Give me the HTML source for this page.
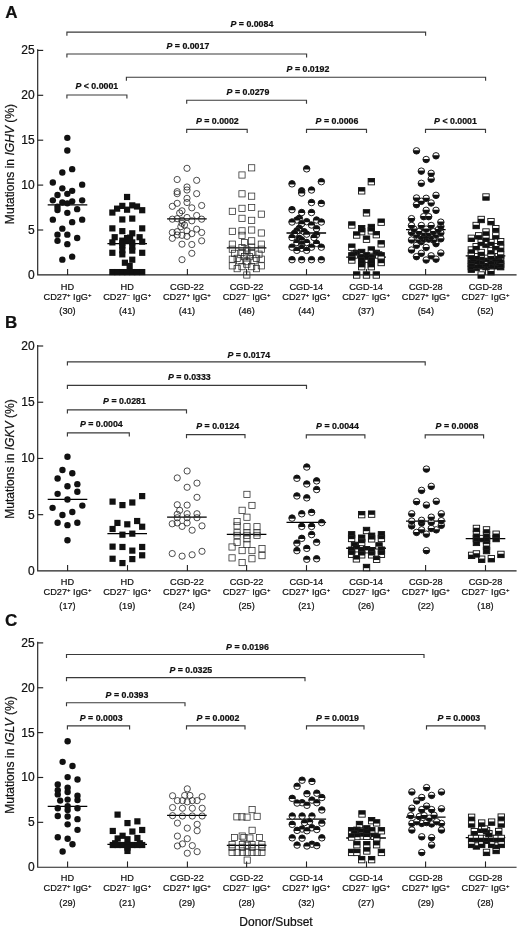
<!DOCTYPE html>
<html><head><meta charset="utf-8"><title>Figure</title>
<style>
html,body{margin:0;padding:0;background:#fff;}
svg{display:block;font-family:"Liberation Sans",sans-serif;fill:#111;filter:grayscale(1);}
text{stroke:#111;stroke-width:0.22px;}
</style></head><body>
<svg width="520" height="931" viewBox="0 0 520 931">
<rect width="520" height="931" fill="#fff"/>
<text x="5.2" y="17.5" font-size="17" font-weight="bold">A</text>
<path d="M37.7 49.85V274.9H516" fill="none" stroke="#222" stroke-width="1.15" stroke-linecap="square"/>
<line x1="37.7" y1="50.40" x2="43.2" y2="50.40" stroke="#222" stroke-width="1.15"/>
<text x="34.6" y="54.40" text-anchor="end" font-size="12">25</text>
<line x1="37.7" y1="95.30" x2="43.2" y2="95.30" stroke="#222" stroke-width="1.15"/>
<text x="34.6" y="99.30" text-anchor="end" font-size="12">20</text>
<line x1="37.7" y1="140.20" x2="43.2" y2="140.20" stroke="#222" stroke-width="1.15"/>
<text x="34.6" y="144.20" text-anchor="end" font-size="12">15</text>
<line x1="37.7" y1="185.10" x2="43.2" y2="185.10" stroke="#222" stroke-width="1.15"/>
<text x="34.6" y="189.10" text-anchor="end" font-size="12">10</text>
<line x1="37.7" y1="230.00" x2="43.2" y2="230.00" stroke="#222" stroke-width="1.15"/>
<text x="34.6" y="234.00" text-anchor="end" font-size="12">5</text>
<text x="34.6" y="278.90" text-anchor="end" font-size="12">0</text>
<line x1="67.6" y1="274.9" x2="67.6" y2="269.09999999999997" stroke="#222" stroke-width="1.1"/>
<line x1="127.5" y1="274.9" x2="127.5" y2="269.09999999999997" stroke="#222" stroke-width="1.1"/>
<line x1="187.4" y1="274.9" x2="187.4" y2="269.09999999999997" stroke="#222" stroke-width="1.1"/>
<line x1="246.6" y1="274.9" x2="246.6" y2="269.09999999999997" stroke="#222" stroke-width="1.1"/>
<line x1="306.5" y1="274.9" x2="306.5" y2="269.09999999999997" stroke="#222" stroke-width="1.1"/>
<line x1="366.5" y1="274.9" x2="366.5" y2="269.09999999999997" stroke="#222" stroke-width="1.1"/>
<line x1="425.6" y1="274.9" x2="425.6" y2="269.09999999999997" stroke="#222" stroke-width="1.1"/>
<line x1="485.5" y1="274.9" x2="485.5" y2="269.09999999999997" stroke="#222" stroke-width="1.1"/>
<text transform="translate(14.2 164) rotate(-90)" text-anchor="middle" font-size="12.1">Mutations in <tspan font-style="italic">IGHV</tspan> (%)</text>
<line x1="47.7" y1="204.83" x2="87.3" y2="204.83" stroke="#000" stroke-width="1.3"/>
<circle cx="67.33" cy="137.83" r="3.2" fill="#111"/>
<circle cx="67.33" cy="150.5" r="3.2" fill="#111"/>
<circle cx="72.17" cy="169.17" r="3.2" fill="#111"/>
<circle cx="62.33" cy="172.5" r="3.2" fill="#111"/>
<circle cx="52.83" cy="182.5" r="3.2" fill="#111"/>
<circle cx="82.17" cy="184.67" r="3.2" fill="#111"/>
<circle cx="62.33" cy="188.33" r="3.2" fill="#111"/>
<circle cx="72.17" cy="190.83" r="3.2" fill="#111"/>
<circle cx="67.33" cy="193.83" r="3.2" fill="#111"/>
<circle cx="57.5" cy="195.0" r="3.2" fill="#111"/>
<circle cx="52.83" cy="200.33" r="3.2" fill="#111"/>
<circle cx="82.17" cy="200.33" r="3.2" fill="#111"/>
<circle cx="72.17" cy="201.33" r="3.2" fill="#111"/>
<circle cx="62.33" cy="202.5" r="3.2" fill="#111"/>
<circle cx="67.33" cy="203.33" r="3.2" fill="#111"/>
<circle cx="57.5" cy="206.67" r="3.2" fill="#111"/>
<circle cx="57.5" cy="210.0" r="3.2" fill="#111"/>
<circle cx="77.17" cy="209.17" r="3.2" fill="#111"/>
<circle cx="67.33" cy="212.83" r="3.2" fill="#111"/>
<circle cx="52.83" cy="219.67" r="3.2" fill="#111"/>
<circle cx="82.17" cy="219.67" r="3.2" fill="#111"/>
<circle cx="72.17" cy="222.17" r="3.2" fill="#111"/>
<circle cx="62.33" cy="228.67" r="3.2" fill="#111"/>
<circle cx="57.5" cy="234.67" r="3.2" fill="#111"/>
<circle cx="67.33" cy="234.67" r="3.2" fill="#111"/>
<circle cx="77.17" cy="238.0" r="3.2" fill="#111"/>
<circle cx="57.5" cy="240.83" r="3.2" fill="#111"/>
<circle cx="67.33" cy="244.17" r="3.2" fill="#111"/>
<circle cx="72.17" cy="256.67" r="3.2" fill="#111"/>
<circle cx="62.33" cy="259.67" r="3.2" fill="#111"/>
<line x1="107.4" y1="243.70" x2="147.0" y2="243.70" stroke="#000" stroke-width="1.3"/>
<rect x="123.97" y="193.87" width="6.2" height="6.2" fill="#111"/>
<rect x="109.26" y="209.45" width="6.2" height="6.2" fill="#111"/>
<rect x="114.01" y="205.55" width="6.2" height="6.2" fill="#111"/>
<rect x="119.21" y="202.78" width="6.2" height="6.2" fill="#111"/>
<rect x="123.97" y="206.59" width="6.2" height="6.2" fill="#111"/>
<rect x="129.16" y="202.27" width="6.2" height="6.2" fill="#111"/>
<rect x="133.92" y="203.39" width="6.2" height="6.2" fill="#111"/>
<rect x="139.11" y="207.11" width="6.2" height="6.2" fill="#111"/>
<rect x="119.21" y="216.37" width="6.2" height="6.2" fill="#111"/>
<rect x="129.16" y="215.51" width="6.2" height="6.2" fill="#111"/>
<rect x="109.26" y="225.28" width="6.2" height="6.2" fill="#111"/>
<rect x="139.11" y="225.28" width="6.2" height="6.2" fill="#111"/>
<rect x="119.21" y="228.05" width="6.2" height="6.2" fill="#111"/>
<rect x="129.16" y="230.22" width="6.2" height="6.2" fill="#111"/>
<rect x="111.59" y="234.11" width="6.2" height="6.2" fill="#111"/>
<rect x="136.51" y="234.11" width="6.2" height="6.2" fill="#111"/>
<rect x="123.97" y="234.98" width="6.2" height="6.2" fill="#111"/>
<rect x="127.00" y="234.54" width="6.2" height="6.2" fill="#111"/>
<rect x="109.26" y="239.30" width="6.2" height="6.2" fill="#111"/>
<rect x="139.11" y="238.61" width="6.2" height="6.2" fill="#111"/>
<rect x="119.21" y="237.57" width="6.2" height="6.2" fill="#111"/>
<rect x="119.21" y="242.33" width="6.2" height="6.2" fill="#111"/>
<rect x="119.21" y="247.09" width="6.2" height="6.2" fill="#111"/>
<rect x="119.21" y="251.24" width="6.2" height="6.2" fill="#111"/>
<rect x="129.16" y="239.30" width="6.2" height="6.2" fill="#111"/>
<rect x="129.16" y="243.63" width="6.2" height="6.2" fill="#111"/>
<rect x="129.16" y="247.52" width="6.2" height="6.2" fill="#111"/>
<rect x="123.97" y="237.57" width="6.2" height="6.2" fill="#111"/>
<rect x="109.26" y="249.69" width="6.2" height="6.2" fill="#111"/>
<rect x="139.11" y="249.69" width="6.2" height="6.2" fill="#111"/>
<rect x="129.16" y="256.61" width="6.2" height="6.2" fill="#111"/>
<rect x="121.80" y="259.64" width="6.2" height="6.2" fill="#111"/>
<rect x="126.56" y="262.84" width="6.2" height="6.2" fill="#111"/>
<rect x="109.26" y="268.98" width="6.2" height="6.2" fill="#111"/>
<rect x="114.01" y="268.98" width="6.2" height="6.2" fill="#111"/>
<rect x="119.21" y="268.98" width="6.2" height="6.2" fill="#111"/>
<rect x="123.97" y="268.98" width="6.2" height="6.2" fill="#111"/>
<rect x="129.16" y="268.98" width="6.2" height="6.2" fill="#111"/>
<rect x="133.92" y="268.98" width="6.2" height="6.2" fill="#111"/>
<rect x="139.11" y="268.98" width="6.2" height="6.2" fill="#111"/>
<rect x="119.21" y="240.17" width="6.2" height="6.2" fill="#111"/>
<line x1="167.1" y1="218.83" x2="206.7" y2="218.83" stroke="#000" stroke-width="1.3"/>
<circle cx="187.0" cy="168.33" r="3.12" fill="none" stroke="#222" stroke-width="0.8"/>
<circle cx="177.17" cy="179.5" r="3.12" fill="none" stroke="#222" stroke-width="0.8"/>
<circle cx="196.67" cy="180.33" r="3.12" fill="none" stroke="#222" stroke-width="0.8"/>
<circle cx="187.0" cy="187.0" r="3.12" fill="none" stroke="#222" stroke-width="0.8"/>
<circle cx="187.0" cy="190.0" r="3.12" fill="none" stroke="#222" stroke-width="0.8"/>
<circle cx="177.17" cy="191.67" r="3.12" fill="none" stroke="#222" stroke-width="0.8"/>
<circle cx="177.17" cy="193.67" r="3.12" fill="none" stroke="#222" stroke-width="0.8"/>
<circle cx="196.67" cy="193.67" r="3.12" fill="none" stroke="#222" stroke-width="0.8"/>
<circle cx="187.0" cy="198.33" r="3.12" fill="none" stroke="#222" stroke-width="0.8"/>
<circle cx="187.0" cy="202.5" r="3.12" fill="none" stroke="#222" stroke-width="0.8"/>
<circle cx="177.17" cy="203.33" r="3.12" fill="none" stroke="#222" stroke-width="0.8"/>
<circle cx="172.33" cy="206.33" r="3.12" fill="none" stroke="#222" stroke-width="0.8"/>
<circle cx="201.67" cy="205.5" r="3.12" fill="none" stroke="#222" stroke-width="0.8"/>
<circle cx="191.83" cy="207.83" r="3.12" fill="none" stroke="#222" stroke-width="0.8"/>
<circle cx="182.0" cy="210.83" r="3.12" fill="none" stroke="#222" stroke-width="0.8"/>
<circle cx="179.67" cy="213.0" r="3.12" fill="none" stroke="#222" stroke-width="0.8"/>
<circle cx="196.67" cy="215.5" r="3.12" fill="none" stroke="#222" stroke-width="0.8"/>
<circle cx="187.0" cy="217.5" r="3.12" fill="none" stroke="#222" stroke-width="0.8"/>
<circle cx="172.33" cy="219.17" r="3.12" fill="none" stroke="#222" stroke-width="0.8"/>
<circle cx="177.17" cy="218.67" r="3.12" fill="none" stroke="#222" stroke-width="0.8"/>
<circle cx="201.67" cy="219.17" r="3.12" fill="none" stroke="#222" stroke-width="0.8"/>
<circle cx="182.0" cy="220.33" r="3.12" fill="none" stroke="#222" stroke-width="0.8"/>
<circle cx="191.83" cy="220.83" r="3.12" fill="none" stroke="#222" stroke-width="0.8"/>
<circle cx="184.5" cy="225.0" r="3.12" fill="none" stroke="#222" stroke-width="0.8"/>
<circle cx="180.83" cy="226.67" r="3.12" fill="none" stroke="#222" stroke-width="0.8"/>
<circle cx="196.67" cy="229.17" r="3.12" fill="none" stroke="#222" stroke-width="0.8"/>
<circle cx="187.0" cy="230.83" r="3.12" fill="none" stroke="#222" stroke-width="0.8"/>
<circle cx="172.33" cy="232.5" r="3.12" fill="none" stroke="#222" stroke-width="0.8"/>
<circle cx="177.17" cy="231.67" r="3.12" fill="none" stroke="#222" stroke-width="0.8"/>
<circle cx="201.67" cy="232.5" r="3.12" fill="none" stroke="#222" stroke-width="0.8"/>
<circle cx="191.83" cy="233.67" r="3.12" fill="none" stroke="#222" stroke-width="0.8"/>
<circle cx="177.17" cy="235.0" r="3.12" fill="none" stroke="#222" stroke-width="0.8"/>
<circle cx="182.0" cy="235.33" r="3.12" fill="none" stroke="#222" stroke-width="0.8"/>
<circle cx="187.0" cy="236.33" r="3.12" fill="none" stroke="#222" stroke-width="0.8"/>
<circle cx="172.33" cy="238.33" r="3.12" fill="none" stroke="#222" stroke-width="0.8"/>
<circle cx="201.67" cy="240.83" r="3.12" fill="none" stroke="#222" stroke-width="0.8"/>
<circle cx="182.0" cy="244.17" r="3.12" fill="none" stroke="#222" stroke-width="0.8"/>
<circle cx="191.83" cy="244.5" r="3.12" fill="none" stroke="#222" stroke-width="0.8"/>
<circle cx="191.83" cy="253.33" r="3.12" fill="none" stroke="#222" stroke-width="0.8"/>
<circle cx="182.0" cy="259.67" r="3.12" fill="none" stroke="#222" stroke-width="0.8"/>
<circle cx="182.0" cy="223.33" r="3.12" fill="none" stroke="#222" stroke-width="0.8"/>
<line x1="226.8" y1="247.83" x2="266.4" y2="247.83" stroke="#000" stroke-width="1.3"/>
<rect x="248.57" y="164.73" width="6.2" height="6.2" fill="none" stroke="#2a2a2a" stroke-width="0.75"/>
<rect x="238.90" y="171.90" width="6.2" height="6.2" fill="none" stroke="#2a2a2a" stroke-width="0.75"/>
<rect x="238.90" y="190.73" width="6.2" height="6.2" fill="none" stroke="#2a2a2a" stroke-width="0.75"/>
<rect x="248.57" y="193.07" width="6.2" height="6.2" fill="none" stroke="#2a2a2a" stroke-width="0.75"/>
<rect x="238.90" y="205.23" width="6.2" height="6.2" fill="none" stroke="#2a2a2a" stroke-width="0.75"/>
<rect x="248.57" y="204.40" width="6.2" height="6.2" fill="none" stroke="#2a2a2a" stroke-width="0.75"/>
<rect x="229.23" y="208.23" width="6.2" height="6.2" fill="none" stroke="#2a2a2a" stroke-width="0.75"/>
<rect x="258.23" y="211.07" width="6.2" height="6.2" fill="none" stroke="#2a2a2a" stroke-width="0.75"/>
<rect x="238.90" y="215.23" width="6.2" height="6.2" fill="none" stroke="#2a2a2a" stroke-width="0.75"/>
<rect x="248.57" y="217.23" width="6.2" height="6.2" fill="none" stroke="#2a2a2a" stroke-width="0.75"/>
<rect x="229.23" y="228.23" width="6.2" height="6.2" fill="none" stroke="#2a2a2a" stroke-width="0.75"/>
<rect x="238.90" y="227.73" width="6.2" height="6.2" fill="none" stroke="#2a2a2a" stroke-width="0.75"/>
<rect x="248.57" y="226.90" width="6.2" height="6.2" fill="none" stroke="#2a2a2a" stroke-width="0.75"/>
<rect x="258.23" y="229.90" width="6.2" height="6.2" fill="none" stroke="#2a2a2a" stroke-width="0.75"/>
<rect x="238.90" y="232.23" width="6.2" height="6.2" fill="none" stroke="#2a2a2a" stroke-width="0.75"/>
<rect x="248.57" y="237.73" width="6.2" height="6.2" fill="none" stroke="#2a2a2a" stroke-width="0.75"/>
<rect x="241.40" y="239.40" width="6.2" height="6.2" fill="none" stroke="#2a2a2a" stroke-width="0.75"/>
<rect x="229.23" y="241.07" width="6.2" height="6.2" fill="none" stroke="#2a2a2a" stroke-width="0.75"/>
<rect x="258.23" y="241.07" width="6.2" height="6.2" fill="none" stroke="#2a2a2a" stroke-width="0.75"/>
<rect x="238.90" y="244.40" width="6.2" height="6.2" fill="none" stroke="#2a2a2a" stroke-width="0.75"/>
<rect x="248.57" y="244.40" width="6.2" height="6.2" fill="none" stroke="#2a2a2a" stroke-width="0.75"/>
<rect x="243.73" y="246.90" width="6.2" height="6.2" fill="none" stroke="#2a2a2a" stroke-width="0.75"/>
<rect x="229.23" y="246.07" width="6.2" height="6.2" fill="none" stroke="#2a2a2a" stroke-width="0.75"/>
<rect x="258.23" y="246.07" width="6.2" height="6.2" fill="none" stroke="#2a2a2a" stroke-width="0.75"/>
<rect x="238.90" y="249.40" width="6.2" height="6.2" fill="none" stroke="#2a2a2a" stroke-width="0.75"/>
<rect x="248.57" y="249.40" width="6.2" height="6.2" fill="none" stroke="#2a2a2a" stroke-width="0.75"/>
<rect x="243.73" y="251.07" width="6.2" height="6.2" fill="none" stroke="#2a2a2a" stroke-width="0.75"/>
<rect x="231.57" y="250.23" width="6.2" height="6.2" fill="none" stroke="#2a2a2a" stroke-width="0.75"/>
<rect x="255.90" y="251.07" width="6.2" height="6.2" fill="none" stroke="#2a2a2a" stroke-width="0.75"/>
<rect x="229.23" y="256.07" width="6.2" height="6.2" fill="none" stroke="#2a2a2a" stroke-width="0.75"/>
<rect x="258.23" y="256.07" width="6.2" height="6.2" fill="none" stroke="#2a2a2a" stroke-width="0.75"/>
<rect x="236.57" y="257.73" width="6.2" height="6.2" fill="none" stroke="#2a2a2a" stroke-width="0.75"/>
<rect x="250.90" y="257.73" width="6.2" height="6.2" fill="none" stroke="#2a2a2a" stroke-width="0.75"/>
<rect x="243.73" y="258.57" width="6.2" height="6.2" fill="none" stroke="#2a2a2a" stroke-width="0.75"/>
<rect x="229.23" y="262.73" width="6.2" height="6.2" fill="none" stroke="#2a2a2a" stroke-width="0.75"/>
<rect x="258.23" y="262.73" width="6.2" height="6.2" fill="none" stroke="#2a2a2a" stroke-width="0.75"/>
<rect x="238.90" y="263.57" width="6.2" height="6.2" fill="none" stroke="#2a2a2a" stroke-width="0.75"/>
<rect x="248.57" y="263.57" width="6.2" height="6.2" fill="none" stroke="#2a2a2a" stroke-width="0.75"/>
<rect x="234.07" y="265.57" width="6.2" height="6.2" fill="none" stroke="#2a2a2a" stroke-width="0.75"/>
<rect x="253.40" y="265.57" width="6.2" height="6.2" fill="none" stroke="#2a2a2a" stroke-width="0.75"/>
<rect x="243.73" y="261.07" width="6.2" height="6.2" fill="none" stroke="#2a2a2a" stroke-width="0.75"/>
<rect x="243.73" y="271.90" width="6.2" height="6.2" fill="none" stroke="#2a2a2a" stroke-width="0.75"/>
<rect x="234.07" y="255.23" width="6.2" height="6.2" fill="none" stroke="#2a2a2a" stroke-width="0.75"/>
<rect x="253.40" y="255.23" width="6.2" height="6.2" fill="none" stroke="#2a2a2a" stroke-width="0.75"/>
<rect x="241.40" y="253.57" width="6.2" height="6.2" fill="none" stroke="#2a2a2a" stroke-width="0.75"/>
<rect x="246.23" y="253.57" width="6.2" height="6.2" fill="none" stroke="#2a2a2a" stroke-width="0.75"/>
<line x1="286.5" y1="233.00" x2="326.1" y2="233.00" stroke="#000" stroke-width="1.3"/>
<circle cx="306.67" cy="168.83" r="3.25" fill="#fff" stroke="#111" stroke-width="0.95"/><path d="M303.47 169.38A3.25 3.25 0 1 1 309.87 169.38Z" fill="#111"/>
<circle cx="321.33" cy="181.67" r="3.25" fill="#fff" stroke="#111" stroke-width="0.95"/><path d="M318.13 182.22A3.25 3.25 0 1 1 324.53 182.22Z" fill="#111"/>
<circle cx="292.0" cy="183.83" r="3.25" fill="#fff" stroke="#111" stroke-width="0.95"/><path d="M288.80 184.38A3.25 3.25 0 1 1 295.20 184.38Z" fill="#111"/>
<circle cx="311.5" cy="190.0" r="3.25" fill="#fff" stroke="#111" stroke-width="0.95"/><path d="M308.30 190.55A3.25 3.25 0 1 1 314.70 190.55Z" fill="#111"/>
<circle cx="301.67" cy="190.83" r="3.25" fill="#fff" stroke="#111" stroke-width="0.95"/><path d="M298.47 191.38A3.25 3.25 0 1 1 304.87 191.38Z" fill="#111"/>
<circle cx="301.67" cy="193.0" r="3.25" fill="#fff" stroke="#111" stroke-width="0.95"/><path d="M298.47 193.55A3.25 3.25 0 1 1 304.87 193.55Z" fill="#111"/>
<circle cx="311.5" cy="202.5" r="3.25" fill="#fff" stroke="#111" stroke-width="0.95"/><path d="M308.30 203.05A3.25 3.25 0 1 1 314.70 203.05Z" fill="#111"/>
<circle cx="321.33" cy="203.33" r="3.25" fill="#fff" stroke="#111" stroke-width="0.95"/><path d="M318.13 203.88A3.25 3.25 0 1 1 324.53 203.88Z" fill="#111"/>
<circle cx="292.0" cy="209.67" r="3.25" fill="#fff" stroke="#111" stroke-width="0.95"/><path d="M288.80 210.22A3.25 3.25 0 1 1 295.20 210.22Z" fill="#111"/>
<circle cx="301.67" cy="212.5" r="3.25" fill="#fff" stroke="#111" stroke-width="0.95"/><path d="M298.47 213.05A3.25 3.25 0 1 1 304.87 213.05Z" fill="#111"/>
<circle cx="311.5" cy="212.5" r="3.25" fill="#fff" stroke="#111" stroke-width="0.95"/><path d="M308.30 213.05A3.25 3.25 0 1 1 314.70 213.05Z" fill="#111"/>
<circle cx="299.33" cy="218.33" r="3.25" fill="#fff" stroke="#111" stroke-width="0.95"/><path d="M296.13 218.88A3.25 3.25 0 1 1 302.53 218.88Z" fill="#111"/>
<circle cx="296.83" cy="220.0" r="3.25" fill="#fff" stroke="#111" stroke-width="0.95"/><path d="M293.63 220.55A3.25 3.25 0 1 1 300.03 220.55Z" fill="#111"/>
<circle cx="316.5" cy="220.0" r="3.25" fill="#fff" stroke="#111" stroke-width="0.95"/><path d="M313.30 220.55A3.25 3.25 0 1 1 319.70 220.55Z" fill="#111"/>
<circle cx="306.67" cy="221.67" r="3.25" fill="#fff" stroke="#111" stroke-width="0.95"/><path d="M303.47 222.22A3.25 3.25 0 1 1 309.87 222.22Z" fill="#111"/>
<circle cx="292.0" cy="222.0" r="3.25" fill="#fff" stroke="#111" stroke-width="0.95"/><path d="M288.80 222.55A3.25 3.25 0 1 1 295.20 222.55Z" fill="#111"/>
<circle cx="321.33" cy="222.0" r="3.25" fill="#fff" stroke="#111" stroke-width="0.95"/><path d="M318.13 222.55A3.25 3.25 0 1 1 324.53 222.55Z" fill="#111"/>
<circle cx="301.67" cy="223.67" r="3.25" fill="#fff" stroke="#111" stroke-width="0.95"/><path d="M298.47 224.22A3.25 3.25 0 1 1 304.87 224.22Z" fill="#111"/>
<circle cx="311.5" cy="225.0" r="3.25" fill="#fff" stroke="#111" stroke-width="0.95"/><path d="M308.30 225.55A3.25 3.25 0 1 1 314.70 225.55Z" fill="#111"/>
<circle cx="299.33" cy="228.33" r="3.25" fill="#fff" stroke="#111" stroke-width="0.95"/><path d="M296.13 228.88A3.25 3.25 0 1 1 302.53 228.88Z" fill="#111"/>
<circle cx="316.5" cy="228.67" r="3.25" fill="#fff" stroke="#111" stroke-width="0.95"/><path d="M313.30 229.22A3.25 3.25 0 1 1 319.70 229.22Z" fill="#111"/>
<circle cx="296.83" cy="230.83" r="3.25" fill="#fff" stroke="#111" stroke-width="0.95"/><path d="M293.63 231.38A3.25 3.25 0 1 1 300.03 231.38Z" fill="#111"/>
<circle cx="304.17" cy="231.67" r="3.25" fill="#fff" stroke="#111" stroke-width="0.95"/><path d="M300.97 232.22A3.25 3.25 0 1 1 307.37 232.22Z" fill="#111"/>
<circle cx="294.5" cy="233.33" r="3.25" fill="#fff" stroke="#111" stroke-width="0.95"/><path d="M291.30 233.88A3.25 3.25 0 1 1 297.70 233.88Z" fill="#111"/>
<circle cx="306.67" cy="234.17" r="3.25" fill="#fff" stroke="#111" stroke-width="0.95"/><path d="M303.47 234.72A3.25 3.25 0 1 1 309.87 234.72Z" fill="#111"/>
<circle cx="316.5" cy="234.67" r="3.25" fill="#fff" stroke="#111" stroke-width="0.95"/><path d="M313.30 235.22A3.25 3.25 0 1 1 319.70 235.22Z" fill="#111"/>
<circle cx="292.0" cy="237.5" r="3.25" fill="#fff" stroke="#111" stroke-width="0.95"/><path d="M288.80 238.05A3.25 3.25 0 1 1 295.20 238.05Z" fill="#111"/>
<circle cx="314.0" cy="237.5" r="3.25" fill="#fff" stroke="#111" stroke-width="0.95"/><path d="M310.80 238.05A3.25 3.25 0 1 1 317.20 238.05Z" fill="#111"/>
<circle cx="299.33" cy="238.33" r="3.25" fill="#fff" stroke="#111" stroke-width="0.95"/><path d="M296.13 238.88A3.25 3.25 0 1 1 302.53 238.88Z" fill="#111"/>
<circle cx="301.67" cy="240.0" r="3.25" fill="#fff" stroke="#111" stroke-width="0.95"/><path d="M298.47 240.55A3.25 3.25 0 1 1 304.87 240.55Z" fill="#111"/>
<circle cx="296.83" cy="242.5" r="3.25" fill="#fff" stroke="#111" stroke-width="0.95"/><path d="M293.63 243.05A3.25 3.25 0 1 1 300.03 243.05Z" fill="#111"/>
<circle cx="306.67" cy="242.5" r="3.25" fill="#fff" stroke="#111" stroke-width="0.95"/><path d="M303.47 243.05A3.25 3.25 0 1 1 309.87 243.05Z" fill="#111"/>
<circle cx="316.5" cy="243.33" r="3.25" fill="#fff" stroke="#111" stroke-width="0.95"/><path d="M313.30 243.88A3.25 3.25 0 1 1 319.70 243.88Z" fill="#111"/>
<circle cx="301.67" cy="244.17" r="3.25" fill="#fff" stroke="#111" stroke-width="0.95"/><path d="M298.47 244.72A3.25 3.25 0 1 1 304.87 244.72Z" fill="#111"/>
<circle cx="292.0" cy="247.17" r="3.25" fill="#fff" stroke="#111" stroke-width="0.95"/><path d="M288.80 247.72A3.25 3.25 0 1 1 295.20 247.72Z" fill="#111"/>
<circle cx="311.5" cy="247.17" r="3.25" fill="#fff" stroke="#111" stroke-width="0.95"/><path d="M308.30 247.72A3.25 3.25 0 1 1 314.70 247.72Z" fill="#111"/>
<circle cx="321.33" cy="247.17" r="3.25" fill="#fff" stroke="#111" stroke-width="0.95"/><path d="M318.13 247.72A3.25 3.25 0 1 1 324.53 247.72Z" fill="#111"/>
<circle cx="301.67" cy="248.33" r="3.25" fill="#fff" stroke="#111" stroke-width="0.95"/><path d="M298.47 248.88A3.25 3.25 0 1 1 304.87 248.88Z" fill="#111"/>
<circle cx="296.83" cy="250.33" r="3.25" fill="#fff" stroke="#111" stroke-width="0.95"/><path d="M293.63 250.88A3.25 3.25 0 1 1 300.03 250.88Z" fill="#111"/>
<circle cx="306.67" cy="250.33" r="3.25" fill="#fff" stroke="#111" stroke-width="0.95"/><path d="M303.47 250.88A3.25 3.25 0 1 1 309.87 250.88Z" fill="#111"/>
<circle cx="292.0" cy="259.67" r="3.25" fill="#fff" stroke="#111" stroke-width="0.95"/><path d="M288.80 260.22A3.25 3.25 0 1 1 295.20 260.22Z" fill="#111"/>
<circle cx="301.67" cy="259.67" r="3.25" fill="#fff" stroke="#111" stroke-width="0.95"/><path d="M298.47 260.22A3.25 3.25 0 1 1 304.87 260.22Z" fill="#111"/>
<circle cx="311.5" cy="259.67" r="3.25" fill="#fff" stroke="#111" stroke-width="0.95"/><path d="M308.30 260.22A3.25 3.25 0 1 1 314.70 260.22Z" fill="#111"/>
<circle cx="321.33" cy="259.67" r="3.25" fill="#fff" stroke="#111" stroke-width="0.95"/><path d="M318.13 260.22A3.25 3.25 0 1 1 324.53 260.22Z" fill="#111"/>
<line x1="346.2" y1="257.17" x2="385.9" y2="257.17" stroke="#000" stroke-width="1.3"/>
<rect x="368.13" y="178.47" width="6.4" height="6.4" fill="#fff" stroke="#111" stroke-width="0.9"/><rect x="368.13" y="178.47" width="6.4" height="3.9000000000000004" fill="#111"/>
<rect x="358.47" y="187.63" width="6.4" height="6.4" fill="#fff" stroke="#111" stroke-width="0.9"/><rect x="358.47" y="187.63" width="6.4" height="3.9000000000000004" fill="#111"/>
<rect x="363.30" y="209.63" width="6.4" height="6.4" fill="#fff" stroke="#111" stroke-width="0.9"/><rect x="363.30" y="209.63" width="6.4" height="3.9000000000000004" fill="#111"/>
<rect x="377.97" y="218.97" width="6.4" height="6.4" fill="#fff" stroke="#111" stroke-width="0.9"/><rect x="377.97" y="218.97" width="6.4" height="3.9000000000000004" fill="#111"/>
<rect x="348.63" y="221.80" width="6.4" height="6.4" fill="#fff" stroke="#111" stroke-width="0.9"/><rect x="348.63" y="221.80" width="6.4" height="3.9000000000000004" fill="#111"/>
<rect x="368.13" y="224.30" width="6.4" height="6.4" fill="#fff" stroke="#111" stroke-width="0.9"/><rect x="368.13" y="224.30" width="6.4" height="3.9000000000000004" fill="#111"/>
<rect x="358.47" y="225.47" width="6.4" height="6.4" fill="#fff" stroke="#111" stroke-width="0.9"/><rect x="358.47" y="225.47" width="6.4" height="3.9000000000000004" fill="#111"/>
<rect x="368.13" y="227.63" width="6.4" height="6.4" fill="#fff" stroke="#111" stroke-width="0.9"/><rect x="368.13" y="227.63" width="6.4" height="3.9000000000000004" fill="#111"/>
<rect x="358.47" y="228.47" width="6.4" height="6.4" fill="#fff" stroke="#111" stroke-width="0.9"/><rect x="358.47" y="228.47" width="6.4" height="3.9000000000000004" fill="#111"/>
<rect x="373.13" y="231.47" width="6.4" height="6.4" fill="#fff" stroke="#111" stroke-width="0.9"/><rect x="373.13" y="231.47" width="6.4" height="3.9000000000000004" fill="#111"/>
<rect x="353.47" y="231.80" width="6.4" height="6.4" fill="#fff" stroke="#111" stroke-width="0.9"/><rect x="353.47" y="231.80" width="6.4" height="3.9000000000000004" fill="#111"/>
<rect x="363.30" y="235.97" width="6.4" height="6.4" fill="#fff" stroke="#111" stroke-width="0.9"/><rect x="363.30" y="235.97" width="6.4" height="3.9000000000000004" fill="#111"/>
<rect x="377.97" y="240.63" width="6.4" height="6.4" fill="#fff" stroke="#111" stroke-width="0.9"/><rect x="377.97" y="240.63" width="6.4" height="3.9000000000000004" fill="#111"/>
<rect x="348.63" y="243.97" width="6.4" height="6.4" fill="#fff" stroke="#111" stroke-width="0.9"/><rect x="348.63" y="243.97" width="6.4" height="3.9000000000000004" fill="#111"/>
<rect x="368.13" y="246.80" width="6.4" height="6.4" fill="#fff" stroke="#111" stroke-width="0.9"/><rect x="368.13" y="246.80" width="6.4" height="3.9000000000000004" fill="#111"/>
<rect x="358.47" y="249.30" width="6.4" height="6.4" fill="#fff" stroke="#111" stroke-width="0.9"/><rect x="358.47" y="249.30" width="6.4" height="3.9000000000000004" fill="#111"/>
<rect x="353.47" y="250.13" width="6.4" height="6.4" fill="#fff" stroke="#111" stroke-width="0.9"/><rect x="353.47" y="250.13" width="6.4" height="3.9000000000000004" fill="#111"/>
<rect x="373.13" y="250.13" width="6.4" height="6.4" fill="#fff" stroke="#111" stroke-width="0.9"/><rect x="373.13" y="250.13" width="6.4" height="3.9000000000000004" fill="#111"/>
<rect x="350.97" y="251.80" width="6.4" height="6.4" fill="#fff" stroke="#111" stroke-width="0.9"/><rect x="350.97" y="251.80" width="6.4" height="3.9000000000000004" fill="#111"/>
<rect x="375.47" y="251.80" width="6.4" height="6.4" fill="#fff" stroke="#111" stroke-width="0.9"/><rect x="375.47" y="251.80" width="6.4" height="3.9000000000000004" fill="#111"/>
<rect x="348.63" y="252.63" width="6.4" height="6.4" fill="#fff" stroke="#111" stroke-width="0.9"/><rect x="348.63" y="252.63" width="6.4" height="3.9000000000000004" fill="#111"/>
<rect x="363.30" y="252.63" width="6.4" height="6.4" fill="#fff" stroke="#111" stroke-width="0.9"/><rect x="363.30" y="252.63" width="6.4" height="3.9000000000000004" fill="#111"/>
<rect x="377.97" y="252.63" width="6.4" height="6.4" fill="#fff" stroke="#111" stroke-width="0.9"/><rect x="377.97" y="252.63" width="6.4" height="3.9000000000000004" fill="#111"/>
<rect x="358.47" y="254.30" width="6.4" height="6.4" fill="#fff" stroke="#111" stroke-width="0.9"/><rect x="358.47" y="254.30" width="6.4" height="3.9000000000000004" fill="#111"/>
<rect x="368.13" y="254.30" width="6.4" height="6.4" fill="#fff" stroke="#111" stroke-width="0.9"/><rect x="368.13" y="254.30" width="6.4" height="3.9000000000000004" fill="#111"/>
<rect x="363.30" y="255.97" width="6.4" height="6.4" fill="#fff" stroke="#111" stroke-width="0.9"/><rect x="363.30" y="255.97" width="6.4" height="3.9000000000000004" fill="#111"/>
<rect x="348.63" y="256.80" width="6.4" height="6.4" fill="#fff" stroke="#111" stroke-width="0.9"/><rect x="348.63" y="256.80" width="6.4" height="3.9000000000000004" fill="#111"/>
<rect x="358.47" y="257.63" width="6.4" height="6.4" fill="#fff" stroke="#111" stroke-width="0.9"/><rect x="358.47" y="257.63" width="6.4" height="3.9000000000000004" fill="#111"/>
<rect x="368.13" y="257.63" width="6.4" height="6.4" fill="#fff" stroke="#111" stroke-width="0.9"/><rect x="368.13" y="257.63" width="6.4" height="3.9000000000000004" fill="#111"/>
<rect x="377.97" y="259.30" width="6.4" height="6.4" fill="#fff" stroke="#111" stroke-width="0.9"/><rect x="377.97" y="259.30" width="6.4" height="3.9000000000000004" fill="#111"/>
<rect x="358.47" y="260.97" width="6.4" height="6.4" fill="#fff" stroke="#111" stroke-width="0.9"/><rect x="358.47" y="260.97" width="6.4" height="3.9000000000000004" fill="#111"/>
<rect x="368.13" y="260.97" width="6.4" height="6.4" fill="#fff" stroke="#111" stroke-width="0.9"/><rect x="368.13" y="260.97" width="6.4" height="3.9000000000000004" fill="#111"/>
<rect x="358.47" y="263.47" width="6.4" height="6.4" fill="#fff" stroke="#111" stroke-width="0.9"/><rect x="358.47" y="263.47" width="6.4" height="3.9000000000000004" fill="#111"/>
<rect x="368.13" y="263.47" width="6.4" height="6.4" fill="#fff" stroke="#111" stroke-width="0.9"/><rect x="368.13" y="263.47" width="6.4" height="3.9000000000000004" fill="#111"/>
<rect x="353.47" y="271.80" width="6.4" height="6.4" fill="#fff" stroke="#111" stroke-width="0.9"/><rect x="353.47" y="271.80" width="6.4" height="3.9000000000000004" fill="#111"/>
<rect x="363.30" y="271.80" width="6.4" height="6.4" fill="#fff" stroke="#111" stroke-width="0.9"/><rect x="363.30" y="271.80" width="6.4" height="3.9000000000000004" fill="#111"/>
<rect x="373.13" y="271.80" width="6.4" height="6.4" fill="#fff" stroke="#111" stroke-width="0.9"/><rect x="373.13" y="271.80" width="6.4" height="3.9000000000000004" fill="#111"/>
<line x1="406.0" y1="229.67" x2="445.6" y2="229.67" stroke="#000" stroke-width="1.3"/>
<circle cx="426.17" cy="260.0" r="3.25" fill="#fff" stroke="#111" stroke-width="0.95"/><path d="M422.97 259.45A3.25 3.25 0 1 0 429.37 259.45Z" fill="#111"/>
<circle cx="436.0" cy="259.17" r="3.25" fill="#fff" stroke="#111" stroke-width="0.95"/><path d="M432.80 258.62A3.25 3.25 0 1 0 439.20 258.62Z" fill="#111"/>
<circle cx="416.5" cy="256.67" r="3.25" fill="#fff" stroke="#111" stroke-width="0.95"/><path d="M413.30 256.12A3.25 3.25 0 1 0 419.70 256.12Z" fill="#111"/>
<circle cx="431.17" cy="255.83" r="3.25" fill="#fff" stroke="#111" stroke-width="0.95"/><path d="M427.97 255.28A3.25 3.25 0 1 0 434.37 255.28Z" fill="#111"/>
<circle cx="421.33" cy="253.33" r="3.25" fill="#fff" stroke="#111" stroke-width="0.95"/><path d="M418.13 252.78A3.25 3.25 0 1 0 424.53 252.78Z" fill="#111"/>
<circle cx="440.83" cy="253.0" r="3.25" fill="#fff" stroke="#111" stroke-width="0.95"/><path d="M437.63 252.45A3.25 3.25 0 1 0 444.03 252.45Z" fill="#111"/>
<circle cx="411.5" cy="250.0" r="3.25" fill="#fff" stroke="#111" stroke-width="0.95"/><path d="M408.30 249.45A3.25 3.25 0 1 0 414.70 249.45Z" fill="#111"/>
<circle cx="426.17" cy="247.5" r="3.25" fill="#fff" stroke="#111" stroke-width="0.95"/><path d="M422.97 246.95A3.25 3.25 0 1 0 429.37 246.95Z" fill="#111"/>
<circle cx="416.5" cy="245.33" r="3.25" fill="#fff" stroke="#111" stroke-width="0.95"/><path d="M413.30 244.78A3.25 3.25 0 1 0 419.70 244.78Z" fill="#111"/>
<circle cx="436.0" cy="243.67" r="3.25" fill="#fff" stroke="#111" stroke-width="0.95"/><path d="M432.80 243.12A3.25 3.25 0 1 0 439.20 243.12Z" fill="#111"/>
<circle cx="421.33" cy="241.67" r="3.25" fill="#fff" stroke="#111" stroke-width="0.95"/><path d="M418.13 241.12A3.25 3.25 0 1 0 424.53 241.12Z" fill="#111"/>
<circle cx="411.5" cy="240.0" r="3.25" fill="#fff" stroke="#111" stroke-width="0.95"/><path d="M408.30 239.45A3.25 3.25 0 1 0 414.70 239.45Z" fill="#111"/>
<circle cx="418.83" cy="240.0" r="3.25" fill="#fff" stroke="#111" stroke-width="0.95"/><path d="M415.63 239.45A3.25 3.25 0 1 0 422.03 239.45Z" fill="#111"/>
<circle cx="433.5" cy="240.0" r="3.25" fill="#fff" stroke="#111" stroke-width="0.95"/><path d="M430.30 239.45A3.25 3.25 0 1 0 436.70 239.45Z" fill="#111"/>
<circle cx="423.67" cy="239.17" r="3.25" fill="#fff" stroke="#111" stroke-width="0.95"/><path d="M420.47 238.62A3.25 3.25 0 1 0 426.87 238.62Z" fill="#111"/>
<circle cx="428.67" cy="239.17" r="3.25" fill="#fff" stroke="#111" stroke-width="0.95"/><path d="M425.47 238.62A3.25 3.25 0 1 0 431.87 238.62Z" fill="#111"/>
<circle cx="440.83" cy="238.83" r="3.25" fill="#fff" stroke="#111" stroke-width="0.95"/><path d="M437.63 238.28A3.25 3.25 0 1 0 444.03 238.28Z" fill="#111"/>
<circle cx="421.33" cy="236.67" r="3.25" fill="#fff" stroke="#111" stroke-width="0.95"/><path d="M418.13 236.12A3.25 3.25 0 1 0 424.53 236.12Z" fill="#111"/>
<circle cx="431.17" cy="236.67" r="3.25" fill="#fff" stroke="#111" stroke-width="0.95"/><path d="M427.97 236.12A3.25 3.25 0 1 0 434.37 236.12Z" fill="#111"/>
<circle cx="426.17" cy="235.83" r="3.25" fill="#fff" stroke="#111" stroke-width="0.95"/><path d="M422.97 235.28A3.25 3.25 0 1 0 429.37 235.28Z" fill="#111"/>
<circle cx="416.5" cy="235.0" r="3.25" fill="#fff" stroke="#111" stroke-width="0.95"/><path d="M413.30 234.45A3.25 3.25 0 1 0 419.70 234.45Z" fill="#111"/>
<circle cx="436.0" cy="235.0" r="3.25" fill="#fff" stroke="#111" stroke-width="0.95"/><path d="M432.80 234.45A3.25 3.25 0 1 0 439.20 234.45Z" fill="#111"/>
<circle cx="423.67" cy="233.33" r="3.25" fill="#fff" stroke="#111" stroke-width="0.95"/><path d="M420.47 232.78A3.25 3.25 0 1 0 426.87 232.78Z" fill="#111"/>
<circle cx="428.67" cy="233.33" r="3.25" fill="#fff" stroke="#111" stroke-width="0.95"/><path d="M425.47 232.78A3.25 3.25 0 1 0 431.87 232.78Z" fill="#111"/>
<circle cx="440.83" cy="233.0" r="3.25" fill="#fff" stroke="#111" stroke-width="0.95"/><path d="M437.63 232.45A3.25 3.25 0 1 0 444.03 232.45Z" fill="#111"/>
<circle cx="411.5" cy="232.5" r="3.25" fill="#fff" stroke="#111" stroke-width="0.95"/><path d="M408.30 231.95A3.25 3.25 0 1 0 414.70 231.95Z" fill="#111"/>
<circle cx="418.83" cy="231.67" r="3.25" fill="#fff" stroke="#111" stroke-width="0.95"/><path d="M415.63 231.12A3.25 3.25 0 1 0 422.03 231.12Z" fill="#111"/>
<circle cx="433.5" cy="231.67" r="3.25" fill="#fff" stroke="#111" stroke-width="0.95"/><path d="M430.30 231.12A3.25 3.25 0 1 0 436.70 231.12Z" fill="#111"/>
<circle cx="438.33" cy="229.67" r="3.25" fill="#fff" stroke="#111" stroke-width="0.95"/><path d="M435.13 229.12A3.25 3.25 0 1 0 441.53 229.12Z" fill="#111"/>
<circle cx="414.0" cy="229.17" r="3.25" fill="#fff" stroke="#111" stroke-width="0.95"/><path d="M410.80 228.62A3.25 3.25 0 1 0 417.20 228.62Z" fill="#111"/>
<circle cx="426.17" cy="229.17" r="3.25" fill="#fff" stroke="#111" stroke-width="0.95"/><path d="M422.97 228.62A3.25 3.25 0 1 0 429.37 228.62Z" fill="#111"/>
<circle cx="440.83" cy="226.33" r="3.25" fill="#fff" stroke="#111" stroke-width="0.95"/><path d="M437.63 225.78A3.25 3.25 0 1 0 444.03 225.78Z" fill="#111"/>
<circle cx="411.5" cy="225.5" r="3.25" fill="#fff" stroke="#111" stroke-width="0.95"/><path d="M408.30 224.95A3.25 3.25 0 1 0 414.70 224.95Z" fill="#111"/>
<circle cx="421.33" cy="225.5" r="3.25" fill="#fff" stroke="#111" stroke-width="0.95"/><path d="M418.13 224.95A3.25 3.25 0 1 0 424.53 224.95Z" fill="#111"/>
<circle cx="431.17" cy="225.5" r="3.25" fill="#fff" stroke="#111" stroke-width="0.95"/><path d="M427.97 224.95A3.25 3.25 0 1 0 434.37 224.95Z" fill="#111"/>
<circle cx="440.83" cy="222.17" r="3.25" fill="#fff" stroke="#111" stroke-width="0.95"/><path d="M437.63 221.62A3.25 3.25 0 1 0 444.03 221.62Z" fill="#111"/>
<circle cx="411.5" cy="218.67" r="3.25" fill="#fff" stroke="#111" stroke-width="0.95"/><path d="M408.30 218.12A3.25 3.25 0 1 0 414.70 218.12Z" fill="#111"/>
<circle cx="423.67" cy="216.67" r="3.25" fill="#fff" stroke="#111" stroke-width="0.95"/><path d="M420.47 216.12A3.25 3.25 0 1 0 426.87 216.12Z" fill="#111"/>
<circle cx="428.67" cy="216.67" r="3.25" fill="#fff" stroke="#111" stroke-width="0.95"/><path d="M425.47 216.12A3.25 3.25 0 1 0 431.87 216.12Z" fill="#111"/>
<circle cx="426.17" cy="210.33" r="3.25" fill="#fff" stroke="#111" stroke-width="0.95"/><path d="M422.97 209.78A3.25 3.25 0 1 0 429.37 209.78Z" fill="#111"/>
<circle cx="436.0" cy="210.33" r="3.25" fill="#fff" stroke="#111" stroke-width="0.95"/><path d="M432.80 209.78A3.25 3.25 0 1 0 439.20 209.78Z" fill="#111"/>
<circle cx="416.5" cy="204.67" r="3.25" fill="#fff" stroke="#111" stroke-width="0.95"/><path d="M413.30 204.12A3.25 3.25 0 1 0 419.70 204.12Z" fill="#111"/>
<circle cx="431.17" cy="203.0" r="3.25" fill="#fff" stroke="#111" stroke-width="0.95"/><path d="M427.97 202.45A3.25 3.25 0 1 0 434.37 202.45Z" fill="#111"/>
<circle cx="421.33" cy="201.33" r="3.25" fill="#fff" stroke="#111" stroke-width="0.95"/><path d="M418.13 200.78A3.25 3.25 0 1 0 424.53 200.78Z" fill="#111"/>
<circle cx="426.17" cy="198.33" r="3.25" fill="#fff" stroke="#111" stroke-width="0.95"/><path d="M422.97 197.78A3.25 3.25 0 1 0 429.37 197.78Z" fill="#111"/>
<circle cx="416.5" cy="198.0" r="3.25" fill="#fff" stroke="#111" stroke-width="0.95"/><path d="M413.30 197.45A3.25 3.25 0 1 0 419.70 197.45Z" fill="#111"/>
<circle cx="436.0" cy="195.33" r="3.25" fill="#fff" stroke="#111" stroke-width="0.95"/><path d="M432.80 194.78A3.25 3.25 0 1 0 439.20 194.78Z" fill="#111"/>
<circle cx="421.33" cy="183.33" r="3.25" fill="#fff" stroke="#111" stroke-width="0.95"/><path d="M418.13 182.78A3.25 3.25 0 1 0 424.53 182.78Z" fill="#111"/>
<circle cx="431.17" cy="179.17" r="3.25" fill="#fff" stroke="#111" stroke-width="0.95"/><path d="M427.97 178.62A3.25 3.25 0 1 0 434.37 178.62Z" fill="#111"/>
<circle cx="431.17" cy="173.33" r="3.25" fill="#fff" stroke="#111" stroke-width="0.95"/><path d="M427.97 172.78A3.25 3.25 0 1 0 434.37 172.78Z" fill="#111"/>
<circle cx="421.33" cy="171.17" r="3.25" fill="#fff" stroke="#111" stroke-width="0.95"/><path d="M418.13 170.62A3.25 3.25 0 1 0 424.53 170.62Z" fill="#111"/>
<circle cx="426.17" cy="159.5" r="3.25" fill="#fff" stroke="#111" stroke-width="0.95"/><path d="M422.97 158.95A3.25 3.25 0 1 0 429.37 158.95Z" fill="#111"/>
<circle cx="436.0" cy="155.83" r="3.25" fill="#fff" stroke="#111" stroke-width="0.95"/><path d="M432.80 155.28A3.25 3.25 0 1 0 439.20 155.28Z" fill="#111"/>
<circle cx="416.5" cy="150.83" r="3.25" fill="#fff" stroke="#111" stroke-width="0.95"/><path d="M413.30 150.28A3.25 3.25 0 1 0 419.70 150.28Z" fill="#111"/>
<line x1="465.7" y1="255.83" x2="505.3" y2="255.83" stroke="#000" stroke-width="1.3"/>
<rect x="477.97" y="271.80" width="6.4" height="6.4" fill="#fff" stroke="#111" stroke-width="0.9"/><rect x="477.97" y="274.30" width="6.4" height="3.9000000000000004" fill="#111"/>
<rect x="487.80" y="268.47" width="6.4" height="6.4" fill="#fff" stroke="#111" stroke-width="0.9"/><rect x="487.80" y="270.97" width="6.4" height="3.9000000000000004" fill="#111"/>
<rect x="468.13" y="265.97" width="6.4" height="6.4" fill="#fff" stroke="#111" stroke-width="0.9"/><rect x="468.13" y="268.47" width="6.4" height="3.9000000000000004" fill="#111"/>
<rect x="472.97" y="264.30" width="6.4" height="6.4" fill="#fff" stroke="#111" stroke-width="0.9"/><rect x="472.97" y="266.80" width="6.4" height="3.9000000000000004" fill="#111"/>
<rect x="468.13" y="263.47" width="6.4" height="6.4" fill="#fff" stroke="#111" stroke-width="0.9"/><rect x="468.13" y="265.97" width="6.4" height="3.9000000000000004" fill="#111"/>
<rect x="482.80" y="263.47" width="6.4" height="6.4" fill="#fff" stroke="#111" stroke-width="0.9"/><rect x="482.80" y="265.97" width="6.4" height="3.9000000000000004" fill="#111"/>
<rect x="497.47" y="263.47" width="6.4" height="6.4" fill="#fff" stroke="#111" stroke-width="0.9"/><rect x="497.47" y="265.97" width="6.4" height="3.9000000000000004" fill="#111"/>
<rect x="492.63" y="262.63" width="6.4" height="6.4" fill="#fff" stroke="#111" stroke-width="0.9"/><rect x="492.63" y="265.13" width="6.4" height="3.9000000000000004" fill="#111"/>
<rect x="480.47" y="262.63" width="6.4" height="6.4" fill="#fff" stroke="#111" stroke-width="0.9"/><rect x="480.47" y="265.13" width="6.4" height="3.9000000000000004" fill="#111"/>
<rect x="485.47" y="262.63" width="6.4" height="6.4" fill="#fff" stroke="#111" stroke-width="0.9"/><rect x="485.47" y="265.13" width="6.4" height="3.9000000000000004" fill="#111"/>
<rect x="472.97" y="261.80" width="6.4" height="6.4" fill="#fff" stroke="#111" stroke-width="0.9"/><rect x="472.97" y="264.30" width="6.4" height="3.9000000000000004" fill="#111"/>
<rect x="477.97" y="261.80" width="6.4" height="6.4" fill="#fff" stroke="#111" stroke-width="0.9"/><rect x="477.97" y="264.30" width="6.4" height="3.9000000000000004" fill="#111"/>
<rect x="487.80" y="261.80" width="6.4" height="6.4" fill="#fff" stroke="#111" stroke-width="0.9"/><rect x="487.80" y="264.30" width="6.4" height="3.9000000000000004" fill="#111"/>
<rect x="497.47" y="260.97" width="6.4" height="6.4" fill="#fff" stroke="#111" stroke-width="0.9"/><rect x="497.47" y="263.47" width="6.4" height="3.9000000000000004" fill="#111"/>
<rect x="468.13" y="260.13" width="6.4" height="6.4" fill="#fff" stroke="#111" stroke-width="0.9"/><rect x="468.13" y="262.63" width="6.4" height="3.9000000000000004" fill="#111"/>
<rect x="482.80" y="260.13" width="6.4" height="6.4" fill="#fff" stroke="#111" stroke-width="0.9"/><rect x="482.80" y="262.63" width="6.4" height="3.9000000000000004" fill="#111"/>
<rect x="492.63" y="259.30" width="6.4" height="6.4" fill="#fff" stroke="#111" stroke-width="0.9"/><rect x="492.63" y="261.80" width="6.4" height="3.9000000000000004" fill="#111"/>
<rect x="477.97" y="258.47" width="6.4" height="6.4" fill="#fff" stroke="#111" stroke-width="0.9"/><rect x="477.97" y="260.97" width="6.4" height="3.9000000000000004" fill="#111"/>
<rect x="490.30" y="258.47" width="6.4" height="6.4" fill="#fff" stroke="#111" stroke-width="0.9"/><rect x="490.30" y="260.97" width="6.4" height="3.9000000000000004" fill="#111"/>
<rect x="472.97" y="257.63" width="6.4" height="6.4" fill="#fff" stroke="#111" stroke-width="0.9"/><rect x="472.97" y="260.13" width="6.4" height="3.9000000000000004" fill="#111"/>
<rect x="487.80" y="257.63" width="6.4" height="6.4" fill="#fff" stroke="#111" stroke-width="0.9"/><rect x="487.80" y="260.13" width="6.4" height="3.9000000000000004" fill="#111"/>
<rect x="468.13" y="256.80" width="6.4" height="6.4" fill="#fff" stroke="#111" stroke-width="0.9"/><rect x="468.13" y="259.30" width="6.4" height="3.9000000000000004" fill="#111"/>
<rect x="497.47" y="256.80" width="6.4" height="6.4" fill="#fff" stroke="#111" stroke-width="0.9"/><rect x="497.47" y="259.30" width="6.4" height="3.9000000000000004" fill="#111"/>
<rect x="492.63" y="255.13" width="6.4" height="6.4" fill="#fff" stroke="#111" stroke-width="0.9"/><rect x="492.63" y="257.63" width="6.4" height="3.9000000000000004" fill="#111"/>
<rect x="482.80" y="255.13" width="6.4" height="6.4" fill="#fff" stroke="#111" stroke-width="0.9"/><rect x="482.80" y="257.63" width="6.4" height="3.9000000000000004" fill="#111"/>
<rect x="470.47" y="255.13" width="6.4" height="6.4" fill="#fff" stroke="#111" stroke-width="0.9"/><rect x="470.47" y="257.63" width="6.4" height="3.9000000000000004" fill="#111"/>
<rect x="477.97" y="254.30" width="6.4" height="6.4" fill="#fff" stroke="#111" stroke-width="0.9"/><rect x="477.97" y="256.80" width="6.4" height="3.9000000000000004" fill="#111"/>
<rect x="487.80" y="253.47" width="6.4" height="6.4" fill="#fff" stroke="#111" stroke-width="0.9"/><rect x="487.80" y="255.97" width="6.4" height="3.9000000000000004" fill="#111"/>
<rect x="472.97" y="253.47" width="6.4" height="6.4" fill="#fff" stroke="#111" stroke-width="0.9"/><rect x="472.97" y="255.97" width="6.4" height="3.9000000000000004" fill="#111"/>
<rect x="495.13" y="253.47" width="6.4" height="6.4" fill="#fff" stroke="#111" stroke-width="0.9"/><rect x="495.13" y="255.97" width="6.4" height="3.9000000000000004" fill="#111"/>
<rect x="468.13" y="252.63" width="6.4" height="6.4" fill="#fff" stroke="#111" stroke-width="0.9"/><rect x="468.13" y="255.13" width="6.4" height="3.9000000000000004" fill="#111"/>
<rect x="497.47" y="251.80" width="6.4" height="6.4" fill="#fff" stroke="#111" stroke-width="0.9"/><rect x="497.47" y="254.30" width="6.4" height="3.9000000000000004" fill="#111"/>
<rect x="477.97" y="249.30" width="6.4" height="6.4" fill="#fff" stroke="#111" stroke-width="0.9"/><rect x="477.97" y="251.80" width="6.4" height="3.9000000000000004" fill="#111"/>
<rect x="487.80" y="247.63" width="6.4" height="6.4" fill="#fff" stroke="#111" stroke-width="0.9"/><rect x="487.80" y="250.13" width="6.4" height="3.9000000000000004" fill="#111"/>
<rect x="468.13" y="246.80" width="6.4" height="6.4" fill="#fff" stroke="#111" stroke-width="0.9"/><rect x="468.13" y="249.30" width="6.4" height="3.9000000000000004" fill="#111"/>
<rect x="497.47" y="245.13" width="6.4" height="6.4" fill="#fff" stroke="#111" stroke-width="0.9"/><rect x="497.47" y="247.63" width="6.4" height="3.9000000000000004" fill="#111"/>
<rect x="472.97" y="243.47" width="6.4" height="6.4" fill="#fff" stroke="#111" stroke-width="0.9"/><rect x="472.97" y="245.97" width="6.4" height="3.9000000000000004" fill="#111"/>
<rect x="492.63" y="243.47" width="6.4" height="6.4" fill="#fff" stroke="#111" stroke-width="0.9"/><rect x="492.63" y="245.97" width="6.4" height="3.9000000000000004" fill="#111"/>
<rect x="482.80" y="240.97" width="6.4" height="6.4" fill="#fff" stroke="#111" stroke-width="0.9"/><rect x="482.80" y="243.47" width="6.4" height="3.9000000000000004" fill="#111"/>
<rect x="477.97" y="239.30" width="6.4" height="6.4" fill="#fff" stroke="#111" stroke-width="0.9"/><rect x="477.97" y="241.80" width="6.4" height="3.9000000000000004" fill="#111"/>
<rect x="487.80" y="239.30" width="6.4" height="6.4" fill="#fff" stroke="#111" stroke-width="0.9"/><rect x="487.80" y="241.80" width="6.4" height="3.9000000000000004" fill="#111"/>
<rect x="497.47" y="238.47" width="6.4" height="6.4" fill="#fff" stroke="#111" stroke-width="0.9"/><rect x="497.47" y="240.97" width="6.4" height="3.9000000000000004" fill="#111"/>
<rect x="468.13" y="235.13" width="6.4" height="6.4" fill="#fff" stroke="#111" stroke-width="0.9"/><rect x="468.13" y="237.63" width="6.4" height="3.9000000000000004" fill="#111"/>
<rect x="482.80" y="235.13" width="6.4" height="6.4" fill="#fff" stroke="#111" stroke-width="0.9"/><rect x="482.80" y="237.63" width="6.4" height="3.9000000000000004" fill="#111"/>
<rect x="475.47" y="232.63" width="6.4" height="6.4" fill="#fff" stroke="#111" stroke-width="0.9"/><rect x="475.47" y="235.13" width="6.4" height="3.9000000000000004" fill="#111"/>
<rect x="492.63" y="232.63" width="6.4" height="6.4" fill="#fff" stroke="#111" stroke-width="0.9"/><rect x="492.63" y="235.13" width="6.4" height="3.9000000000000004" fill="#111"/>
<rect x="482.80" y="228.80" width="6.4" height="6.4" fill="#fff" stroke="#111" stroke-width="0.9"/><rect x="482.80" y="231.30" width="6.4" height="3.9000000000000004" fill="#111"/>
<rect x="492.63" y="225.47" width="6.4" height="6.4" fill="#fff" stroke="#111" stroke-width="0.9"/><rect x="492.63" y="227.97" width="6.4" height="3.9000000000000004" fill="#111"/>
<rect x="472.97" y="222.30" width="6.4" height="6.4" fill="#fff" stroke="#111" stroke-width="0.9"/><rect x="472.97" y="224.80" width="6.4" height="3.9000000000000004" fill="#111"/>
<rect x="487.80" y="218.47" width="6.4" height="6.4" fill="#fff" stroke="#111" stroke-width="0.9"/><rect x="487.80" y="220.97" width="6.4" height="3.9000000000000004" fill="#111"/>
<rect x="477.97" y="216.30" width="6.4" height="6.4" fill="#fff" stroke="#111" stroke-width="0.9"/><rect x="477.97" y="218.80" width="6.4" height="3.9000000000000004" fill="#111"/>
<rect x="482.80" y="193.80" width="6.4" height="6.4" fill="#fff" stroke="#111" stroke-width="0.9"/><rect x="482.80" y="196.30" width="6.4" height="3.9000000000000004" fill="#111"/>
<text x="67.5" y="289.5" text-anchor="middle" font-size="9.2">HD</text>
<text x="67.5" y="299.7" text-anchor="middle" font-size="9.2">CD27<tspan font-size="6" dy="-3">+</tspan><tspan dy="3"> IgG</tspan><tspan font-size="6" dy="-3">+</tspan></text>
<text x="67.5" y="314.0" text-anchor="middle" font-size="9.2">(30)</text>
<text x="127.2" y="289.5" text-anchor="middle" font-size="9.2">HD</text>
<text x="127.2" y="299.7" text-anchor="middle" font-size="9.2">CD27<tspan font-size="6" dy="-3">−</tspan><tspan dy="3"> IgG</tspan><tspan font-size="6" dy="-3">+</tspan></text>
<text x="127.2" y="314.0" text-anchor="middle" font-size="9.2">(41)</text>
<text x="186.9" y="289.5" text-anchor="middle" font-size="9.2">CGD-22</text>
<text x="186.9" y="299.7" text-anchor="middle" font-size="9.2">CD27<tspan font-size="6" dy="-3">+</tspan><tspan dy="3"> IgG</tspan><tspan font-size="6" dy="-3">+</tspan></text>
<text x="186.9" y="314.0" text-anchor="middle" font-size="9.2">(41)</text>
<text x="246.6" y="289.5" text-anchor="middle" font-size="9.2">CGD-22</text>
<text x="246.6" y="299.7" text-anchor="middle" font-size="9.2">CD27<tspan font-size="6" dy="-3">−</tspan><tspan dy="3"> IgG</tspan><tspan font-size="6" dy="-3">+</tspan></text>
<text x="246.6" y="314.0" text-anchor="middle" font-size="9.2">(46)</text>
<text x="306.3" y="289.5" text-anchor="middle" font-size="9.2">CGD-14</text>
<text x="306.3" y="299.7" text-anchor="middle" font-size="9.2">CD27<tspan font-size="6" dy="-3">+</tspan><tspan dy="3"> IgG</tspan><tspan font-size="6" dy="-3">+</tspan></text>
<text x="306.3" y="314.0" text-anchor="middle" font-size="9.2">(44)</text>
<text x="366.1" y="289.5" text-anchor="middle" font-size="9.2">CGD-14</text>
<text x="366.1" y="299.7" text-anchor="middle" font-size="9.2">CD27<tspan font-size="6" dy="-3">−</tspan><tspan dy="3"> IgG</tspan><tspan font-size="6" dy="-3">+</tspan></text>
<text x="366.1" y="314.0" text-anchor="middle" font-size="9.2">(37)</text>
<text x="425.8" y="289.5" text-anchor="middle" font-size="9.2">CGD-28</text>
<text x="425.8" y="299.7" text-anchor="middle" font-size="9.2">CD27<tspan font-size="6" dy="-3">+</tspan><tspan dy="3"> IgG</tspan><tspan font-size="6" dy="-3">+</tspan></text>
<text x="425.8" y="314.0" text-anchor="middle" font-size="9.2">(54)</text>
<text x="485.5" y="289.5" text-anchor="middle" font-size="9.2">CGD-28</text>
<text x="485.5" y="299.7" text-anchor="middle" font-size="9.2">CD27<tspan font-size="6" dy="-3">−</tspan><tspan dy="3"> IgG</tspan><tspan font-size="6" dy="-3">+</tspan></text>
<text x="485.5" y="314.0" text-anchor="middle" font-size="9.2">(52)</text>
<path d="M66.9 35.7V32.1H425.6V35.7" fill="none" stroke="#3a3a3a" stroke-width="1.15"/>
<text x="251.9" y="27.3" text-anchor="middle" font-size="8.8" font-weight="bold"><tspan font-style="italic">P</tspan> = 0.0084</text>
<path d="M66.9 57.6V54.0H306.6V57.6" fill="none" stroke="#3a3a3a" stroke-width="1.15"/>
<text x="187.9" y="48.8" text-anchor="middle" font-size="8.8" font-weight="bold"><tspan font-style="italic">P</tspan> = 0.0017</text>
<path d="M126.4 80.8V77.2H485.6V80.8" fill="none" stroke="#3a3a3a" stroke-width="1.15"/>
<text x="308" y="71.6" text-anchor="middle" font-size="8.8" font-weight="bold"><tspan font-style="italic">P</tspan> = 0.0192</text>
<path d="M66.9 98.6V95.0H126.9V98.6" fill="none" stroke="#3a3a3a" stroke-width="1.15"/>
<text x="96.8" y="89.3" text-anchor="middle" font-size="8.8" font-weight="bold"><tspan font-style="italic">P</tspan> &lt; 0.0001</text>
<path d="M186.7 103.8V100.2H306.5V103.8" fill="none" stroke="#3a3a3a" stroke-width="1.15"/>
<text x="248.0" y="95.3" text-anchor="middle" font-size="8.8" font-weight="bold"><tspan font-style="italic">P</tspan> = 0.0279</text>
<path d="M186.7 132.9V129.3H247.2V132.9" fill="none" stroke="#3a3a3a" stroke-width="1.15"/>
<text x="217.3" y="123.9" text-anchor="middle" font-size="8.8" font-weight="bold"><tspan font-style="italic">P</tspan> = 0.0002</text>
<path d="M306.5 132.9V129.3H366.5V132.9" fill="none" stroke="#3a3a3a" stroke-width="1.15"/>
<text x="337" y="123.9" text-anchor="middle" font-size="8.8" font-weight="bold"><tspan font-style="italic">P</tspan> = 0.0006</text>
<path d="M425.5 132.9V129.3H485.5V132.9" fill="none" stroke="#3a3a3a" stroke-width="1.15"/>
<text x="455.5" y="123.9" text-anchor="middle" font-size="8.8" font-weight="bold"><tspan font-style="italic">P</tspan> &lt; 0.0001</text>
<text x="5" y="327.5" font-size="17" font-weight="bold">B</text>
<path d="M37.7 345.45V570.9H516" fill="none" stroke="#222" stroke-width="1.15" stroke-linecap="square"/>
<line x1="37.7" y1="346.00" x2="43.2" y2="346.00" stroke="#222" stroke-width="1.15"/>
<text x="34.6" y="350.00" text-anchor="end" font-size="12">20</text>
<line x1="37.7" y1="402.23" x2="43.2" y2="402.23" stroke="#222" stroke-width="1.15"/>
<text x="34.6" y="406.23" text-anchor="end" font-size="12">15</text>
<line x1="37.7" y1="458.45" x2="43.2" y2="458.45" stroke="#222" stroke-width="1.15"/>
<text x="34.6" y="462.45" text-anchor="end" font-size="12">10</text>
<line x1="37.7" y1="514.67" x2="43.2" y2="514.67" stroke="#222" stroke-width="1.15"/>
<text x="34.6" y="518.67" text-anchor="end" font-size="12">5</text>
<text x="34.6" y="574.90" text-anchor="end" font-size="12">0</text>
<line x1="67.6" y1="570.9" x2="67.6" y2="565.1" stroke="#222" stroke-width="1.1"/>
<line x1="127.5" y1="570.9" x2="127.5" y2="565.1" stroke="#222" stroke-width="1.1"/>
<line x1="187.4" y1="570.9" x2="187.4" y2="565.1" stroke="#222" stroke-width="1.1"/>
<line x1="246.6" y1="570.9" x2="246.6" y2="565.1" stroke="#222" stroke-width="1.1"/>
<line x1="306.5" y1="570.9" x2="306.5" y2="565.1" stroke="#222" stroke-width="1.1"/>
<line x1="366.5" y1="570.9" x2="366.5" y2="565.1" stroke="#222" stroke-width="1.1"/>
<line x1="425.6" y1="570.9" x2="425.6" y2="565.1" stroke="#222" stroke-width="1.1"/>
<line x1="485.5" y1="570.9" x2="485.5" y2="565.1" stroke="#222" stroke-width="1.1"/>
<text transform="translate(14.2 459) rotate(-90)" text-anchor="middle" font-size="12.1">Mutations in <tspan font-style="italic">IGKV</tspan> (%)</text>
<line x1="47.7" y1="499.38" x2="87.3" y2="499.38" stroke="#000" stroke-width="1.3"/>
<circle cx="67.46" cy="456.81" r="3.2" fill="#111"/>
<circle cx="62.44" cy="469.96" r="3.2" fill="#111"/>
<circle cx="72.31" cy="473.25" r="3.2" fill="#111"/>
<circle cx="57.6" cy="478.44" r="3.2" fill="#111"/>
<circle cx="77.33" cy="484.15" r="3.2" fill="#111"/>
<circle cx="67.46" cy="486.23" r="3.2" fill="#111"/>
<circle cx="77.33" cy="491.77" r="3.2" fill="#111"/>
<circle cx="57.6" cy="493.85" r="3.2" fill="#111"/>
<circle cx="67.46" cy="499.56" r="3.2" fill="#111"/>
<circle cx="82.35" cy="505.62" r="3.2" fill="#111"/>
<circle cx="52.58" cy="507.87" r="3.2" fill="#111"/>
<circle cx="72.31" cy="512.02" r="3.2" fill="#111"/>
<circle cx="62.44" cy="514.96" r="3.2" fill="#111"/>
<circle cx="57.6" cy="522.75" r="3.2" fill="#111"/>
<circle cx="77.33" cy="522.75" r="3.2" fill="#111"/>
<circle cx="67.46" cy="525.17" r="3.2" fill="#111"/>
<circle cx="67.46" cy="540.23" r="3.2" fill="#111"/>
<line x1="107.4" y1="533.65" x2="147.0" y2="533.65" stroke="#000" stroke-width="1.3"/>
<rect x="139.07" y="493.00" width="6.2" height="6.2" fill="#111"/>
<rect x="109.48" y="498.53" width="6.2" height="6.2" fill="#111"/>
<rect x="129.21" y="499.40" width="6.2" height="6.2" fill="#111"/>
<rect x="119.34" y="502.00" width="6.2" height="6.2" fill="#111"/>
<rect x="134.05" y="517.92" width="6.2" height="6.2" fill="#111"/>
<rect x="114.32" y="519.82" width="6.2" height="6.2" fill="#111"/>
<rect x="124.19" y="521.21" width="6.2" height="6.2" fill="#111"/>
<rect x="139.07" y="523.63" width="6.2" height="6.2" fill="#111"/>
<rect x="109.48" y="525.88" width="6.2" height="6.2" fill="#111"/>
<rect x="129.21" y="530.55" width="6.2" height="6.2" fill="#111"/>
<rect x="119.34" y="531.59" width="6.2" height="6.2" fill="#111"/>
<rect x="109.48" y="543.53" width="6.2" height="6.2" fill="#111"/>
<rect x="119.34" y="543.88" width="6.2" height="6.2" fill="#111"/>
<rect x="139.07" y="543.88" width="6.2" height="6.2" fill="#111"/>
<rect x="129.21" y="547.52" width="6.2" height="6.2" fill="#111"/>
<rect x="139.07" y="552.19" width="6.2" height="6.2" fill="#111"/>
<rect x="109.48" y="555.65" width="6.2" height="6.2" fill="#111"/>
<rect x="129.21" y="556.00" width="6.2" height="6.2" fill="#111"/>
<rect x="119.34" y="559.98" width="6.2" height="6.2" fill="#111"/>
<line x1="167.1" y1="517.21" x2="206.7" y2="517.21" stroke="#000" stroke-width="1.3"/>
<circle cx="187.12" cy="471.0" r="3.12" fill="none" stroke="#222" stroke-width="0.8"/>
<circle cx="177.25" cy="477.92" r="3.12" fill="none" stroke="#222" stroke-width="0.8"/>
<circle cx="196.98" cy="483.12" r="3.12" fill="none" stroke="#222" stroke-width="0.8"/>
<circle cx="187.12" cy="487.27" r="3.12" fill="none" stroke="#222" stroke-width="0.8"/>
<circle cx="196.98" cy="497.31" r="3.12" fill="none" stroke="#222" stroke-width="0.8"/>
<circle cx="177.25" cy="504.75" r="3.12" fill="none" stroke="#222" stroke-width="0.8"/>
<circle cx="187.12" cy="505.1" r="3.12" fill="none" stroke="#222" stroke-width="0.8"/>
<circle cx="179.67" cy="510.29" r="3.12" fill="none" stroke="#222" stroke-width="0.8"/>
<circle cx="177.25" cy="514.27" r="3.12" fill="none" stroke="#222" stroke-width="0.8"/>
<circle cx="187.12" cy="513.75" r="3.12" fill="none" stroke="#222" stroke-width="0.8"/>
<circle cx="196.98" cy="513.75" r="3.12" fill="none" stroke="#222" stroke-width="0.8"/>
<circle cx="177.25" cy="517.73" r="3.12" fill="none" stroke="#222" stroke-width="0.8"/>
<circle cx="187.12" cy="517.73" r="3.12" fill="none" stroke="#222" stroke-width="0.8"/>
<circle cx="196.98" cy="517.73" r="3.12" fill="none" stroke="#222" stroke-width="0.8"/>
<circle cx="172.23" cy="523.79" r="3.12" fill="none" stroke="#222" stroke-width="0.8"/>
<circle cx="177.25" cy="522.92" r="3.12" fill="none" stroke="#222" stroke-width="0.8"/>
<circle cx="187.12" cy="522.92" r="3.12" fill="none" stroke="#222" stroke-width="0.8"/>
<circle cx="202.0" cy="525.87" r="3.12" fill="none" stroke="#222" stroke-width="0.8"/>
<circle cx="182.1" cy="526.38" r="3.12" fill="none" stroke="#222" stroke-width="0.8"/>
<circle cx="192.13" cy="530.19" r="3.12" fill="none" stroke="#222" stroke-width="0.8"/>
<circle cx="202.0" cy="551.31" r="3.12" fill="none" stroke="#222" stroke-width="0.8"/>
<circle cx="172.23" cy="553.56" r="3.12" fill="none" stroke="#222" stroke-width="0.8"/>
<circle cx="192.13" cy="554.77" r="3.12" fill="none" stroke="#222" stroke-width="0.8"/>
<circle cx="182.1" cy="556.15" r="3.12" fill="none" stroke="#222" stroke-width="0.8"/>
<line x1="226.8" y1="534.35" x2="266.4" y2="534.35" stroke="#000" stroke-width="1.3"/>
<rect x="243.84" y="491.27" width="6.2" height="6.2" fill="none" stroke="#2a2a2a" stroke-width="0.75"/>
<rect x="248.86" y="502.34" width="6.2" height="6.2" fill="none" stroke="#2a2a2a" stroke-width="0.75"/>
<rect x="239.00" y="507.19" width="6.2" height="6.2" fill="none" stroke="#2a2a2a" stroke-width="0.75"/>
<rect x="243.84" y="514.11" width="6.2" height="6.2" fill="none" stroke="#2a2a2a" stroke-width="0.75"/>
<rect x="233.98" y="518.44" width="6.2" height="6.2" fill="none" stroke="#2a2a2a" stroke-width="0.75"/>
<rect x="233.98" y="522.77" width="6.2" height="6.2" fill="none" stroke="#2a2a2a" stroke-width="0.75"/>
<rect x="243.84" y="523.63" width="6.2" height="6.2" fill="none" stroke="#2a2a2a" stroke-width="0.75"/>
<rect x="253.88" y="523.63" width="6.2" height="6.2" fill="none" stroke="#2a2a2a" stroke-width="0.75"/>
<rect x="233.98" y="529.69" width="6.2" height="6.2" fill="none" stroke="#2a2a2a" stroke-width="0.75"/>
<rect x="243.84" y="529.69" width="6.2" height="6.2" fill="none" stroke="#2a2a2a" stroke-width="0.75"/>
<rect x="253.88" y="529.69" width="6.2" height="6.2" fill="none" stroke="#2a2a2a" stroke-width="0.75"/>
<rect x="233.98" y="532.28" width="6.2" height="6.2" fill="none" stroke="#2a2a2a" stroke-width="0.75"/>
<rect x="243.84" y="532.28" width="6.2" height="6.2" fill="none" stroke="#2a2a2a" stroke-width="0.75"/>
<rect x="253.88" y="532.28" width="6.2" height="6.2" fill="none" stroke="#2a2a2a" stroke-width="0.75"/>
<rect x="243.84" y="535.75" width="6.2" height="6.2" fill="none" stroke="#2a2a2a" stroke-width="0.75"/>
<rect x="233.98" y="539.21" width="6.2" height="6.2" fill="none" stroke="#2a2a2a" stroke-width="0.75"/>
<rect x="243.84" y="541.28" width="6.2" height="6.2" fill="none" stroke="#2a2a2a" stroke-width="0.75"/>
<rect x="228.96" y="543.88" width="6.2" height="6.2" fill="none" stroke="#2a2a2a" stroke-width="0.75"/>
<rect x="258.90" y="545.61" width="6.2" height="6.2" fill="none" stroke="#2a2a2a" stroke-width="0.75"/>
<rect x="239.00" y="547.52" width="6.2" height="6.2" fill="none" stroke="#2a2a2a" stroke-width="0.75"/>
<rect x="248.86" y="547.52" width="6.2" height="6.2" fill="none" stroke="#2a2a2a" stroke-width="0.75"/>
<rect x="258.90" y="552.53" width="6.2" height="6.2" fill="none" stroke="#2a2a2a" stroke-width="0.75"/>
<rect x="228.96" y="554.78" width="6.2" height="6.2" fill="none" stroke="#2a2a2a" stroke-width="0.75"/>
<rect x="248.86" y="555.65" width="6.2" height="6.2" fill="none" stroke="#2a2a2a" stroke-width="0.75"/>
<rect x="239.00" y="559.46" width="6.2" height="6.2" fill="none" stroke="#2a2a2a" stroke-width="0.75"/>
<line x1="286.5" y1="522.40" x2="326.1" y2="522.40" stroke="#000" stroke-width="1.3"/>
<circle cx="306.77" cy="467.02" r="3.25" fill="#fff" stroke="#111" stroke-width="0.95"/><path d="M303.57 467.57A3.25 3.25 0 1 1 309.97 467.57Z" fill="#111"/>
<circle cx="296.9" cy="478.27" r="3.25" fill="#fff" stroke="#111" stroke-width="0.95"/><path d="M293.70 478.82A3.25 3.25 0 1 1 300.10 478.82Z" fill="#111"/>
<circle cx="316.63" cy="480.87" r="3.25" fill="#fff" stroke="#111" stroke-width="0.95"/><path d="M313.43 481.42A3.25 3.25 0 1 1 319.83 481.42Z" fill="#111"/>
<circle cx="306.77" cy="483.98" r="3.25" fill="#fff" stroke="#111" stroke-width="0.95"/><path d="M303.57 484.53A3.25 3.25 0 1 1 309.97 484.53Z" fill="#111"/>
<circle cx="316.63" cy="489.52" r="3.25" fill="#fff" stroke="#111" stroke-width="0.95"/><path d="M313.43 490.07A3.25 3.25 0 1 1 319.83 490.07Z" fill="#111"/>
<circle cx="296.9" cy="495.92" r="3.25" fill="#fff" stroke="#111" stroke-width="0.95"/><path d="M293.70 496.47A3.25 3.25 0 1 1 300.10 496.47Z" fill="#111"/>
<circle cx="306.77" cy="497.83" r="3.25" fill="#fff" stroke="#111" stroke-width="0.95"/><path d="M303.57 498.38A3.25 3.25 0 1 1 309.97 498.38Z" fill="#111"/>
<circle cx="311.62" cy="512.37" r="3.25" fill="#fff" stroke="#111" stroke-width="0.95"/><path d="M308.42 512.92A3.25 3.25 0 1 1 314.82 512.92Z" fill="#111"/>
<circle cx="301.75" cy="513.75" r="3.25" fill="#fff" stroke="#111" stroke-width="0.95"/><path d="M298.55 514.30A3.25 3.25 0 1 1 304.95 514.30Z" fill="#111"/>
<circle cx="292.06" cy="518.08" r="3.25" fill="#fff" stroke="#111" stroke-width="0.95"/><path d="M288.86 518.63A3.25 3.25 0 1 1 295.26 518.63Z" fill="#111"/>
<circle cx="321.65" cy="522.58" r="3.25" fill="#fff" stroke="#111" stroke-width="0.95"/><path d="M318.45 523.13A3.25 3.25 0 1 1 324.85 523.13Z" fill="#111"/>
<circle cx="301.75" cy="526.38" r="3.25" fill="#fff" stroke="#111" stroke-width="0.95"/><path d="M298.55 526.93A3.25 3.25 0 1 1 304.95 526.93Z" fill="#111"/>
<circle cx="311.62" cy="526.38" r="3.25" fill="#fff" stroke="#111" stroke-width="0.95"/><path d="M308.42 526.93A3.25 3.25 0 1 1 314.82 526.93Z" fill="#111"/>
<circle cx="311.62" cy="534.52" r="3.25" fill="#fff" stroke="#111" stroke-width="0.95"/><path d="M308.42 535.07A3.25 3.25 0 1 1 314.82 535.07Z" fill="#111"/>
<circle cx="301.75" cy="538.33" r="3.25" fill="#fff" stroke="#111" stroke-width="0.95"/><path d="M298.55 538.88A3.25 3.25 0 1 1 304.95 538.88Z" fill="#111"/>
<circle cx="316.63" cy="542.31" r="3.25" fill="#fff" stroke="#111" stroke-width="0.95"/><path d="M313.43 542.86A3.25 3.25 0 1 1 319.83 542.86Z" fill="#111"/>
<circle cx="296.9" cy="543.17" r="3.25" fill="#fff" stroke="#111" stroke-width="0.95"/><path d="M293.70 543.72A3.25 3.25 0 1 1 300.10 543.72Z" fill="#111"/>
<circle cx="306.77" cy="548.37" r="3.25" fill="#fff" stroke="#111" stroke-width="0.95"/><path d="M303.57 548.92A3.25 3.25 0 1 1 309.97 548.92Z" fill="#111"/>
<circle cx="296.9" cy="550.62" r="3.25" fill="#fff" stroke="#111" stroke-width="0.95"/><path d="M293.70 551.17A3.25 3.25 0 1 1 300.10 551.17Z" fill="#111"/>
<circle cx="316.63" cy="558.75" r="3.25" fill="#fff" stroke="#111" stroke-width="0.95"/><path d="M313.43 559.30A3.25 3.25 0 1 1 319.83 559.30Z" fill="#111"/>
<circle cx="306.77" cy="559.27" r="3.25" fill="#fff" stroke="#111" stroke-width="0.95"/><path d="M303.57 559.82A3.25 3.25 0 1 1 309.97 559.82Z" fill="#111"/>
<line x1="346.2" y1="548.27" x2="385.9" y2="548.27" stroke="#000" stroke-width="1.3"/>
<rect x="368.42" y="510.93" width="6.4" height="6.4" fill="#fff" stroke="#111" stroke-width="0.9"/><rect x="368.42" y="510.93" width="6.4" height="3.9000000000000004" fill="#111"/>
<rect x="358.51" y="511.42" width="6.4" height="6.4" fill="#fff" stroke="#111" stroke-width="0.9"/><rect x="358.51" y="511.42" width="6.4" height="3.9000000000000004" fill="#111"/>
<rect x="363.32" y="527.28" width="6.4" height="6.4" fill="#fff" stroke="#111" stroke-width="0.9"/><rect x="363.32" y="527.28" width="6.4" height="3.9000000000000004" fill="#111"/>
<rect x="348.42" y="531.61" width="6.4" height="6.4" fill="#fff" stroke="#111" stroke-width="0.9"/><rect x="348.42" y="531.61" width="6.4" height="3.9000000000000004" fill="#111"/>
<rect x="378.22" y="531.61" width="6.4" height="6.4" fill="#fff" stroke="#111" stroke-width="0.9"/><rect x="378.22" y="531.61" width="6.4" height="3.9000000000000004" fill="#111"/>
<rect x="368.42" y="533.05" width="6.4" height="6.4" fill="#fff" stroke="#111" stroke-width="0.9"/><rect x="368.42" y="533.05" width="6.4" height="3.9000000000000004" fill="#111"/>
<rect x="358.51" y="534.97" width="6.4" height="6.4" fill="#fff" stroke="#111" stroke-width="0.9"/><rect x="358.51" y="534.97" width="6.4" height="3.9000000000000004" fill="#111"/>
<rect x="348.42" y="535.26" width="6.4" height="6.4" fill="#fff" stroke="#111" stroke-width="0.9"/><rect x="348.42" y="535.26" width="6.4" height="3.9000000000000004" fill="#111"/>
<rect x="378.22" y="535.26" width="6.4" height="6.4" fill="#fff" stroke="#111" stroke-width="0.9"/><rect x="378.22" y="535.26" width="6.4" height="3.9000000000000004" fill="#111"/>
<rect x="368.42" y="535.65" width="6.4" height="6.4" fill="#fff" stroke="#111" stroke-width="0.9"/><rect x="368.42" y="535.65" width="6.4" height="3.9000000000000004" fill="#111"/>
<rect x="358.51" y="539.30" width="6.4" height="6.4" fill="#fff" stroke="#111" stroke-width="0.9"/><rect x="358.51" y="539.30" width="6.4" height="3.9000000000000004" fill="#111"/>
<rect x="351.30" y="542.18" width="6.4" height="6.4" fill="#fff" stroke="#111" stroke-width="0.9"/><rect x="351.30" y="542.18" width="6.4" height="3.9000000000000004" fill="#111"/>
<rect x="375.82" y="542.67" width="6.4" height="6.4" fill="#fff" stroke="#111" stroke-width="0.9"/><rect x="375.82" y="542.67" width="6.4" height="3.9000000000000004" fill="#111"/>
<rect x="353.22" y="545.55" width="6.4" height="6.4" fill="#fff" stroke="#111" stroke-width="0.9"/><rect x="353.22" y="545.55" width="6.4" height="3.9000000000000004" fill="#111"/>
<rect x="363.32" y="546.51" width="6.4" height="6.4" fill="#fff" stroke="#111" stroke-width="0.9"/><rect x="363.32" y="546.51" width="6.4" height="3.9000000000000004" fill="#111"/>
<rect x="348.42" y="546.99" width="6.4" height="6.4" fill="#fff" stroke="#111" stroke-width="0.9"/><rect x="348.42" y="546.99" width="6.4" height="3.9000000000000004" fill="#111"/>
<rect x="378.22" y="546.99" width="6.4" height="6.4" fill="#fff" stroke="#111" stroke-width="0.9"/><rect x="378.22" y="546.99" width="6.4" height="3.9000000000000004" fill="#111"/>
<rect x="358.51" y="547.47" width="6.4" height="6.4" fill="#fff" stroke="#111" stroke-width="0.9"/><rect x="358.51" y="547.47" width="6.4" height="3.9000000000000004" fill="#111"/>
<rect x="368.42" y="547.47" width="6.4" height="6.4" fill="#fff" stroke="#111" stroke-width="0.9"/><rect x="368.42" y="547.47" width="6.4" height="3.9000000000000004" fill="#111"/>
<rect x="348.42" y="551.03" width="6.4" height="6.4" fill="#fff" stroke="#111" stroke-width="0.9"/><rect x="348.42" y="551.03" width="6.4" height="3.9000000000000004" fill="#111"/>
<rect x="378.22" y="551.03" width="6.4" height="6.4" fill="#fff" stroke="#111" stroke-width="0.9"/><rect x="378.22" y="551.03" width="6.4" height="3.9000000000000004" fill="#111"/>
<rect x="358.51" y="551.61" width="6.4" height="6.4" fill="#fff" stroke="#111" stroke-width="0.9"/><rect x="358.51" y="551.61" width="6.4" height="3.9000000000000004" fill="#111"/>
<rect x="368.42" y="551.61" width="6.4" height="6.4" fill="#fff" stroke="#111" stroke-width="0.9"/><rect x="368.42" y="551.61" width="6.4" height="3.9000000000000004" fill="#111"/>
<rect x="353.22" y="555.65" width="6.4" height="6.4" fill="#fff" stroke="#111" stroke-width="0.9"/><rect x="353.22" y="555.65" width="6.4" height="3.9000000000000004" fill="#111"/>
<rect x="373.42" y="556.13" width="6.4" height="6.4" fill="#fff" stroke="#111" stroke-width="0.9"/><rect x="373.42" y="556.13" width="6.4" height="3.9000000000000004" fill="#111"/>
<rect x="363.32" y="564.30" width="6.4" height="6.4" fill="#fff" stroke="#111" stroke-width="0.9"/><rect x="363.32" y="564.30" width="6.4" height="3.9000000000000004" fill="#111"/>
<line x1="406.0" y1="521.19" x2="445.6" y2="521.19" stroke="#000" stroke-width="1.3"/>
<circle cx="426.42" cy="550.62" r="3.25" fill="#fff" stroke="#111" stroke-width="0.95"/><path d="M423.22 550.07A3.25 3.25 0 1 0 429.62 550.07Z" fill="#111"/>
<circle cx="426.42" cy="534.17" r="3.25" fill="#fff" stroke="#111" stroke-width="0.95"/><path d="M423.22 533.62A3.25 3.25 0 1 0 429.62 533.62Z" fill="#111"/>
<circle cx="416.56" cy="532.44" r="3.25" fill="#fff" stroke="#111" stroke-width="0.95"/><path d="M413.36 531.89A3.25 3.25 0 1 0 419.76 531.89Z" fill="#111"/>
<circle cx="421.58" cy="529.85" r="3.25" fill="#fff" stroke="#111" stroke-width="0.95"/><path d="M418.38 529.30A3.25 3.25 0 1 0 424.78 529.30Z" fill="#111"/>
<circle cx="436.29" cy="529.85" r="3.25" fill="#fff" stroke="#111" stroke-width="0.95"/><path d="M433.09 529.30A3.25 3.25 0 1 0 439.49 529.30Z" fill="#111"/>
<circle cx="431.27" cy="528.46" r="3.25" fill="#fff" stroke="#111" stroke-width="0.95"/><path d="M428.07 527.91A3.25 3.25 0 1 0 434.47 527.91Z" fill="#111"/>
<circle cx="411.71" cy="525.87" r="3.25" fill="#fff" stroke="#111" stroke-width="0.95"/><path d="M408.51 525.32A3.25 3.25 0 1 0 414.91 525.32Z" fill="#111"/>
<circle cx="441.31" cy="525.35" r="3.25" fill="#fff" stroke="#111" stroke-width="0.95"/><path d="M438.11 524.80A3.25 3.25 0 1 0 444.51 524.80Z" fill="#111"/>
<circle cx="421.58" cy="522.92" r="3.25" fill="#fff" stroke="#111" stroke-width="0.95"/><path d="M418.38 522.37A3.25 3.25 0 1 0 424.78 522.37Z" fill="#111"/>
<circle cx="431.27" cy="522.4" r="3.25" fill="#fff" stroke="#111" stroke-width="0.95"/><path d="M428.07 521.85A3.25 3.25 0 1 0 434.47 521.85Z" fill="#111"/>
<circle cx="411.71" cy="521.19" r="3.25" fill="#fff" stroke="#111" stroke-width="0.95"/><path d="M408.51 520.64A3.25 3.25 0 1 0 414.91 520.64Z" fill="#111"/>
<circle cx="441.31" cy="520.67" r="3.25" fill="#fff" stroke="#111" stroke-width="0.95"/><path d="M438.11 520.12A3.25 3.25 0 1 0 444.51 520.12Z" fill="#111"/>
<circle cx="421.58" cy="520.33" r="3.25" fill="#fff" stroke="#111" stroke-width="0.95"/><path d="M418.38 519.78A3.25 3.25 0 1 0 424.78 519.78Z" fill="#111"/>
<circle cx="431.27" cy="517.21" r="3.25" fill="#fff" stroke="#111" stroke-width="0.95"/><path d="M428.07 516.66A3.25 3.25 0 1 0 434.47 516.66Z" fill="#111"/>
<circle cx="411.71" cy="513.75" r="3.25" fill="#fff" stroke="#111" stroke-width="0.95"/><path d="M408.51 513.20A3.25 3.25 0 1 0 414.91 513.20Z" fill="#111"/>
<circle cx="441.31" cy="513.75" r="3.25" fill="#fff" stroke="#111" stroke-width="0.95"/><path d="M438.11 513.20A3.25 3.25 0 1 0 444.51 513.20Z" fill="#111"/>
<circle cx="426.42" cy="505.1" r="3.25" fill="#fff" stroke="#111" stroke-width="0.95"/><path d="M423.22 504.55A3.25 3.25 0 1 0 429.62 504.55Z" fill="#111"/>
<circle cx="416.56" cy="501.63" r="3.25" fill="#fff" stroke="#111" stroke-width="0.95"/><path d="M413.36 501.08A3.25 3.25 0 1 0 419.76 501.08Z" fill="#111"/>
<circle cx="436.29" cy="501.29" r="3.25" fill="#fff" stroke="#111" stroke-width="0.95"/><path d="M433.09 500.74A3.25 3.25 0 1 0 439.49 500.74Z" fill="#111"/>
<circle cx="421.58" cy="490.38" r="3.25" fill="#fff" stroke="#111" stroke-width="0.95"/><path d="M418.38 489.83A3.25 3.25 0 1 0 424.78 489.83Z" fill="#111"/>
<circle cx="431.27" cy="486.4" r="3.25" fill="#fff" stroke="#111" stroke-width="0.95"/><path d="M428.07 485.85A3.25 3.25 0 1 0 434.47 485.85Z" fill="#111"/>
<circle cx="426.42" cy="469.1" r="3.25" fill="#fff" stroke="#111" stroke-width="0.95"/><path d="M423.22 468.55A3.25 3.25 0 1 0 429.62 468.55Z" fill="#111"/>
<line x1="465.7" y1="538.56" x2="505.3" y2="538.56" stroke="#000" stroke-width="1.3"/>
<rect x="478.51" y="556.03" width="6.4" height="6.4" fill="#fff" stroke="#111" stroke-width="0.9"/><rect x="478.51" y="558.53" width="6.4" height="3.9000000000000004" fill="#111"/>
<rect x="488.13" y="555.55" width="6.4" height="6.4" fill="#fff" stroke="#111" stroke-width="0.9"/><rect x="488.13" y="558.05" width="6.4" height="3.9000000000000004" fill="#111"/>
<rect x="468.42" y="552.18" width="6.4" height="6.4" fill="#fff" stroke="#111" stroke-width="0.9"/><rect x="468.42" y="554.68" width="6.4" height="3.9000000000000004" fill="#111"/>
<rect x="497.74" y="551.22" width="6.4" height="6.4" fill="#fff" stroke="#111" stroke-width="0.9"/><rect x="497.74" y="553.72" width="6.4" height="3.9000000000000004" fill="#111"/>
<rect x="473.22" y="550.74" width="6.4" height="6.4" fill="#fff" stroke="#111" stroke-width="0.9"/><rect x="473.22" y="553.24" width="6.4" height="3.9000000000000004" fill="#111"/>
<rect x="483.32" y="547.38" width="6.4" height="6.4" fill="#fff" stroke="#111" stroke-width="0.9"/><rect x="483.32" y="549.88" width="6.4" height="3.9000000000000004" fill="#111"/>
<rect x="483.32" y="543.05" width="6.4" height="6.4" fill="#fff" stroke="#111" stroke-width="0.9"/><rect x="483.32" y="545.55" width="6.4" height="3.9000000000000004" fill="#111"/>
<rect x="473.22" y="539.20" width="6.4" height="6.4" fill="#fff" stroke="#111" stroke-width="0.9"/><rect x="473.22" y="541.70" width="6.4" height="3.9000000000000004" fill="#111"/>
<rect x="483.32" y="537.28" width="6.4" height="6.4" fill="#fff" stroke="#111" stroke-width="0.9"/><rect x="483.32" y="539.78" width="6.4" height="3.9000000000000004" fill="#111"/>
<rect x="473.22" y="535.36" width="6.4" height="6.4" fill="#fff" stroke="#111" stroke-width="0.9"/><rect x="473.22" y="537.86" width="6.4" height="3.9000000000000004" fill="#111"/>
<rect x="483.32" y="535.36" width="6.4" height="6.4" fill="#fff" stroke="#111" stroke-width="0.9"/><rect x="483.32" y="537.86" width="6.4" height="3.9000000000000004" fill="#111"/>
<rect x="492.93" y="535.36" width="6.4" height="6.4" fill="#fff" stroke="#111" stroke-width="0.9"/><rect x="492.93" y="537.86" width="6.4" height="3.9000000000000004" fill="#111"/>
<rect x="478.03" y="535.36" width="6.4" height="6.4" fill="#fff" stroke="#111" stroke-width="0.9"/><rect x="478.03" y="537.86" width="6.4" height="3.9000000000000004" fill="#111"/>
<rect x="483.32" y="531.51" width="6.4" height="6.4" fill="#fff" stroke="#111" stroke-width="0.9"/><rect x="483.32" y="534.01" width="6.4" height="3.9000000000000004" fill="#111"/>
<rect x="473.22" y="531.03" width="6.4" height="6.4" fill="#fff" stroke="#111" stroke-width="0.9"/><rect x="473.22" y="533.53" width="6.4" height="3.9000000000000004" fill="#111"/>
<rect x="492.93" y="531.03" width="6.4" height="6.4" fill="#fff" stroke="#111" stroke-width="0.9"/><rect x="492.93" y="533.53" width="6.4" height="3.9000000000000004" fill="#111"/>
<rect x="483.32" y="526.70" width="6.4" height="6.4" fill="#fff" stroke="#111" stroke-width="0.9"/><rect x="483.32" y="529.20" width="6.4" height="3.9000000000000004" fill="#111"/>
<rect x="473.22" y="525.26" width="6.4" height="6.4" fill="#fff" stroke="#111" stroke-width="0.9"/><rect x="473.22" y="527.76" width="6.4" height="3.9000000000000004" fill="#111"/>
<text x="67.5" y="584.6" text-anchor="middle" font-size="9.2">HD</text>
<text x="67.5" y="594.8" text-anchor="middle" font-size="9.2">CD27<tspan font-size="6" dy="-3">+</tspan><tspan dy="3"> IgG</tspan><tspan font-size="6" dy="-3">+</tspan></text>
<text x="67.5" y="609.1" text-anchor="middle" font-size="9.2">(17)</text>
<text x="127.2" y="584.6" text-anchor="middle" font-size="9.2">HD</text>
<text x="127.2" y="594.8" text-anchor="middle" font-size="9.2">CD27<tspan font-size="6" dy="-3">−</tspan><tspan dy="3"> IgG</tspan><tspan font-size="6" dy="-3">+</tspan></text>
<text x="127.2" y="609.1" text-anchor="middle" font-size="9.2">(19)</text>
<text x="186.9" y="584.6" text-anchor="middle" font-size="9.2">CGD-22</text>
<text x="186.9" y="594.8" text-anchor="middle" font-size="9.2">CD27<tspan font-size="6" dy="-3">+</tspan><tspan dy="3"> IgG</tspan><tspan font-size="6" dy="-3">+</tspan></text>
<text x="186.9" y="609.1" text-anchor="middle" font-size="9.2">(24)</text>
<text x="246.6" y="584.6" text-anchor="middle" font-size="9.2">CGD-22</text>
<text x="246.6" y="594.8" text-anchor="middle" font-size="9.2">CD27<tspan font-size="6" dy="-3">−</tspan><tspan dy="3"> IgG</tspan><tspan font-size="6" dy="-3">+</tspan></text>
<text x="246.6" y="609.1" text-anchor="middle" font-size="9.2">(25)</text>
<text x="306.3" y="584.6" text-anchor="middle" font-size="9.2">CGD-14</text>
<text x="306.3" y="594.8" text-anchor="middle" font-size="9.2">CD27<tspan font-size="6" dy="-3">+</tspan><tspan dy="3"> IgG</tspan><tspan font-size="6" dy="-3">+</tspan></text>
<text x="306.3" y="609.1" text-anchor="middle" font-size="9.2">(21)</text>
<text x="366.1" y="584.6" text-anchor="middle" font-size="9.2">CGD-14</text>
<text x="366.1" y="594.8" text-anchor="middle" font-size="9.2">CD27<tspan font-size="6" dy="-3">−</tspan><tspan dy="3"> IgG</tspan><tspan font-size="6" dy="-3">+</tspan></text>
<text x="366.1" y="609.1" text-anchor="middle" font-size="9.2">(26)</text>
<text x="425.8" y="584.6" text-anchor="middle" font-size="9.2">CGD-28</text>
<text x="425.8" y="594.8" text-anchor="middle" font-size="9.2">CD27<tspan font-size="6" dy="-3">+</tspan><tspan dy="3"> IgG</tspan><tspan font-size="6" dy="-3">+</tspan></text>
<text x="425.8" y="609.1" text-anchor="middle" font-size="9.2">(22)</text>
<text x="485.5" y="584.6" text-anchor="middle" font-size="9.2">CGD-28</text>
<text x="485.5" y="594.8" text-anchor="middle" font-size="9.2">CD27<tspan font-size="6" dy="-3">−</tspan><tspan dy="3"> IgG</tspan><tspan font-size="6" dy="-3">+</tspan></text>
<text x="485.5" y="609.1" text-anchor="middle" font-size="9.2">(18)</text>
<path d="M67.4 365.40000000000003V361.8H425.2V365.40000000000003" fill="none" stroke="#3a3a3a" stroke-width="1.15"/>
<text x="248.8" y="357.8" text-anchor="middle" font-size="8.8" font-weight="bold"><tspan font-style="italic">P</tspan> = 0.0174</text>
<path d="M67.4 389.0V385.4H306.5V389.0" fill="none" stroke="#3a3a3a" stroke-width="1.15"/>
<text x="189.3" y="380.3" text-anchor="middle" font-size="8.8" font-weight="bold"><tspan font-style="italic">P</tspan> = 0.0333</text>
<path d="M67.4 413.40000000000003V409.8H186.5V413.40000000000003" fill="none" stroke="#3a3a3a" stroke-width="1.15"/>
<text x="124.5" y="404.2" text-anchor="middle" font-size="8.8" font-weight="bold"><tspan font-style="italic">P</tspan> = 0.0281</text>
<path d="M67.4 436.40000000000003V432.8H129.3V436.40000000000003" fill="none" stroke="#3a3a3a" stroke-width="1.15"/>
<text x="101.3" y="427.4" text-anchor="middle" font-size="8.8" font-weight="bold"><tspan font-style="italic">P</tspan> = 0.0004</text>
<path d="M186.5 438.20000000000005V434.6H245V438.20000000000005" fill="none" stroke="#3a3a3a" stroke-width="1.15"/>
<text x="217.7" y="428.9" text-anchor="middle" font-size="8.8" font-weight="bold"><tspan font-style="italic">P</tspan> = 0.0124</text>
<path d="M306.3 438.40000000000003V434.8H364.9V438.40000000000003" fill="none" stroke="#3a3a3a" stroke-width="1.15"/>
<text x="337.5" y="428.9" text-anchor="middle" font-size="8.8" font-weight="bold"><tspan font-style="italic">P</tspan> = 0.0044</text>
<path d="M425.2 438.40000000000003V434.8H483.6V438.40000000000003" fill="none" stroke="#3a3a3a" stroke-width="1.15"/>
<text x="457" y="428.9" text-anchor="middle" font-size="8.8" font-weight="bold"><tspan font-style="italic">P</tspan> = 0.0008</text>
<text x="5" y="626" font-size="17" font-weight="bold">C</text>
<path d="M37.7 642.35V867.2H516" fill="none" stroke="#222" stroke-width="1.15" stroke-linecap="square"/>
<line x1="37.7" y1="642.90" x2="43.2" y2="642.90" stroke="#222" stroke-width="1.15"/>
<text x="34.6" y="646.90" text-anchor="end" font-size="12">25</text>
<line x1="37.7" y1="687.76" x2="43.2" y2="687.76" stroke="#222" stroke-width="1.15"/>
<text x="34.6" y="691.76" text-anchor="end" font-size="12">20</text>
<line x1="37.7" y1="732.62" x2="43.2" y2="732.62" stroke="#222" stroke-width="1.15"/>
<text x="34.6" y="736.62" text-anchor="end" font-size="12">15</text>
<line x1="37.7" y1="777.48" x2="43.2" y2="777.48" stroke="#222" stroke-width="1.15"/>
<text x="34.6" y="781.48" text-anchor="end" font-size="12">10</text>
<line x1="37.7" y1="822.34" x2="43.2" y2="822.34" stroke="#222" stroke-width="1.15"/>
<text x="34.6" y="826.34" text-anchor="end" font-size="12">5</text>
<text x="34.6" y="871.20" text-anchor="end" font-size="12">0</text>
<line x1="67.6" y1="867.2" x2="67.6" y2="861.4000000000001" stroke="#222" stroke-width="1.1"/>
<line x1="127.5" y1="867.2" x2="127.5" y2="861.4000000000001" stroke="#222" stroke-width="1.1"/>
<line x1="187.4" y1="867.2" x2="187.4" y2="861.4000000000001" stroke="#222" stroke-width="1.1"/>
<line x1="246.6" y1="867.2" x2="246.6" y2="861.4000000000001" stroke="#222" stroke-width="1.1"/>
<line x1="306.5" y1="867.2" x2="306.5" y2="861.4000000000001" stroke="#222" stroke-width="1.1"/>
<line x1="366.5" y1="867.2" x2="366.5" y2="861.4000000000001" stroke="#222" stroke-width="1.1"/>
<line x1="425.6" y1="867.2" x2="425.6" y2="861.4000000000001" stroke="#222" stroke-width="1.1"/>
<line x1="485.5" y1="867.2" x2="485.5" y2="861.4000000000001" stroke="#222" stroke-width="1.1"/>
<text transform="translate(14.2 755) rotate(-90)" text-anchor="middle" font-size="12.1">Mutations in <tspan font-style="italic">IGLV</tspan> (%)</text>
<line x1="47.7" y1="806.33" x2="87.3" y2="806.33" stroke="#000" stroke-width="1.3"/>
<circle cx="67.63" cy="741.25" r="3.2" fill="#111"/>
<circle cx="62.62" cy="761.85" r="3.2" fill="#111"/>
<circle cx="72.48" cy="766.0" r="3.2" fill="#111"/>
<circle cx="67.63" cy="777.08" r="3.2" fill="#111"/>
<circle cx="77.5" cy="779.5" r="3.2" fill="#111"/>
<circle cx="57.77" cy="784.52" r="3.2" fill="#111"/>
<circle cx="67.63" cy="787.63" r="3.2" fill="#111"/>
<circle cx="57.77" cy="790.23" r="3.2" fill="#111"/>
<circle cx="67.63" cy="791.96" r="3.2" fill="#111"/>
<circle cx="57.77" cy="794.38" r="3.2" fill="#111"/>
<circle cx="77.5" cy="795.77" r="3.2" fill="#111"/>
<circle cx="67.63" cy="799.58" r="3.2" fill="#111"/>
<circle cx="77.5" cy="800.1" r="3.2" fill="#111"/>
<circle cx="60.19" cy="800.62" r="3.2" fill="#111"/>
<circle cx="57.77" cy="808.23" r="3.2" fill="#111"/>
<circle cx="67.63" cy="806.15" r="3.2" fill="#111"/>
<circle cx="77.5" cy="808.23" r="3.2" fill="#111"/>
<circle cx="67.63" cy="809.96" r="3.2" fill="#111"/>
<circle cx="57.77" cy="816.02" r="3.2" fill="#111"/>
<circle cx="67.63" cy="816.54" r="3.2" fill="#111"/>
<circle cx="77.5" cy="819.13" r="3.2" fill="#111"/>
<circle cx="67.63" cy="824.33" r="3.2" fill="#111"/>
<circle cx="77.5" cy="829.87" r="3.2" fill="#111"/>
<circle cx="57.77" cy="837.31" r="3.2" fill="#111"/>
<circle cx="67.63" cy="838.69" r="3.2" fill="#111"/>
<circle cx="72.48" cy="844.23" r="3.2" fill="#111"/>
<circle cx="62.62" cy="851.5" r="3.2" fill="#111"/>
<line x1="107.4" y1="844.42" x2="147.0" y2="844.42" stroke="#000" stroke-width="1.3"/>
<rect x="114.48" y="811.52" width="6.2" height="6.2" fill="#111"/>
<rect x="124.38" y="819.98" width="6.2" height="6.2" fill="#111"/>
<rect x="134.28" y="818.25" width="6.2" height="6.2" fill="#111"/>
<rect x="109.67" y="827.86" width="6.2" height="6.2" fill="#111"/>
<rect x="129.28" y="828.44" width="6.2" height="6.2" fill="#111"/>
<rect x="139.09" y="826.90" width="6.2" height="6.2" fill="#111"/>
<rect x="119.48" y="832.67" width="6.2" height="6.2" fill="#111"/>
<rect x="114.57" y="835.36" width="6.2" height="6.2" fill="#111"/>
<rect x="124.38" y="836.13" width="6.2" height="6.2" fill="#111"/>
<rect x="134.28" y="834.88" width="6.2" height="6.2" fill="#111"/>
<rect x="109.67" y="841.90" width="6.2" height="6.2" fill="#111"/>
<rect x="114.57" y="841.90" width="6.2" height="6.2" fill="#111"/>
<rect x="119.48" y="841.90" width="6.2" height="6.2" fill="#111"/>
<rect x="124.38" y="841.90" width="6.2" height="6.2" fill="#111"/>
<rect x="129.28" y="841.90" width="6.2" height="6.2" fill="#111"/>
<rect x="134.28" y="841.90" width="6.2" height="6.2" fill="#111"/>
<rect x="139.09" y="841.90" width="6.2" height="6.2" fill="#111"/>
<rect x="112.07" y="840.17" width="6.2" height="6.2" fill="#111"/>
<rect x="136.69" y="840.17" width="6.2" height="6.2" fill="#111"/>
<rect x="124.38" y="847.86" width="6.2" height="6.2" fill="#111"/>
<rect x="124.38" y="844.50" width="6.2" height="6.2" fill="#111"/>
<line x1="167.1" y1="815.33" x2="206.7" y2="815.33" stroke="#000" stroke-width="1.3"/>
<circle cx="187.29" cy="788.85" r="3.12" fill="none" stroke="#222" stroke-width="0.8"/>
<circle cx="172.58" cy="795.77" r="3.12" fill="none" stroke="#222" stroke-width="0.8"/>
<circle cx="184.69" cy="795.42" r="3.12" fill="none" stroke="#222" stroke-width="0.8"/>
<circle cx="189.88" cy="795.42" r="3.12" fill="none" stroke="#222" stroke-width="0.8"/>
<circle cx="202.17" cy="796.63" r="3.12" fill="none" stroke="#222" stroke-width="0.8"/>
<circle cx="177.42" cy="800.62" r="3.12" fill="none" stroke="#222" stroke-width="0.8"/>
<circle cx="182.44" cy="800.62" r="3.12" fill="none" stroke="#222" stroke-width="0.8"/>
<circle cx="192.31" cy="800.62" r="3.12" fill="none" stroke="#222" stroke-width="0.8"/>
<circle cx="197.15" cy="800.62" r="3.12" fill="none" stroke="#222" stroke-width="0.8"/>
<circle cx="187.29" cy="801.83" r="3.12" fill="none" stroke="#222" stroke-width="0.8"/>
<circle cx="172.58" cy="807.54" r="3.12" fill="none" stroke="#222" stroke-width="0.8"/>
<circle cx="182.44" cy="808.23" r="3.12" fill="none" stroke="#222" stroke-width="0.8"/>
<circle cx="192.31" cy="808.23" r="3.12" fill="none" stroke="#222" stroke-width="0.8"/>
<circle cx="202.17" cy="808.23" r="3.12" fill="none" stroke="#222" stroke-width="0.8"/>
<circle cx="172.58" cy="815.67" r="3.12" fill="none" stroke="#222" stroke-width="0.8"/>
<circle cx="182.44" cy="816.02" r="3.12" fill="none" stroke="#222" stroke-width="0.8"/>
<circle cx="192.31" cy="816.02" r="3.12" fill="none" stroke="#222" stroke-width="0.8"/>
<circle cx="202.17" cy="816.02" r="3.12" fill="none" stroke="#222" stroke-width="0.8"/>
<circle cx="177.42" cy="823.12" r="3.12" fill="none" stroke="#222" stroke-width="0.8"/>
<circle cx="197.15" cy="824.33" r="3.12" fill="none" stroke="#222" stroke-width="0.8"/>
<circle cx="187.29" cy="828.13" r="3.12" fill="none" stroke="#222" stroke-width="0.8"/>
<circle cx="197.15" cy="830.73" r="3.12" fill="none" stroke="#222" stroke-width="0.8"/>
<circle cx="177.42" cy="836.1" r="3.12" fill="none" stroke="#222" stroke-width="0.8"/>
<circle cx="187.29" cy="838.69" r="3.12" fill="none" stroke="#222" stroke-width="0.8"/>
<circle cx="182.44" cy="843.88" r="3.12" fill="none" stroke="#222" stroke-width="0.8"/>
<circle cx="177.42" cy="845.96" r="3.12" fill="none" stroke="#222" stroke-width="0.8"/>
<circle cx="192.31" cy="845.62" r="3.12" fill="none" stroke="#222" stroke-width="0.8"/>
<circle cx="197.15" cy="851.67" r="3.12" fill="none" stroke="#222" stroke-width="0.8"/>
<circle cx="187.29" cy="853.23" r="3.12" fill="none" stroke="#222" stroke-width="0.8"/>
<line x1="226.8" y1="845.38" x2="266.4" y2="845.38" stroke="#000" stroke-width="1.3"/>
<rect x="249.00" y="806.52" width="6.2" height="6.2" fill="none" stroke="#2a2a2a" stroke-width="0.75"/>
<rect x="233.80" y="813.73" width="6.2" height="6.2" fill="none" stroke="#2a2a2a" stroke-width="0.75"/>
<rect x="238.80" y="813.73" width="6.2" height="6.2" fill="none" stroke="#2a2a2a" stroke-width="0.75"/>
<rect x="243.90" y="814.02" width="6.2" height="6.2" fill="none" stroke="#2a2a2a" stroke-width="0.75"/>
<rect x="254.00" y="813.25" width="6.2" height="6.2" fill="none" stroke="#2a2a2a" stroke-width="0.75"/>
<rect x="249.00" y="827.19" width="6.2" height="6.2" fill="none" stroke="#2a2a2a" stroke-width="0.75"/>
<rect x="231.40" y="834.40" width="6.2" height="6.2" fill="none" stroke="#2a2a2a" stroke-width="0.75"/>
<rect x="239.09" y="832.96" width="6.2" height="6.2" fill="none" stroke="#2a2a2a" stroke-width="0.75"/>
<rect x="240.82" y="834.59" width="6.2" height="6.2" fill="none" stroke="#2a2a2a" stroke-width="0.75"/>
<rect x="246.78" y="834.88" width="6.2" height="6.2" fill="none" stroke="#2a2a2a" stroke-width="0.75"/>
<rect x="256.40" y="834.40" width="6.2" height="6.2" fill="none" stroke="#2a2a2a" stroke-width="0.75"/>
<rect x="229.00" y="841.61" width="6.2" height="6.2" fill="none" stroke="#2a2a2a" stroke-width="0.75"/>
<rect x="239.28" y="841.61" width="6.2" height="6.2" fill="none" stroke="#2a2a2a" stroke-width="0.75"/>
<rect x="248.90" y="841.61" width="6.2" height="6.2" fill="none" stroke="#2a2a2a" stroke-width="0.75"/>
<rect x="258.80" y="841.61" width="6.2" height="6.2" fill="none" stroke="#2a2a2a" stroke-width="0.75"/>
<rect x="229.00" y="844.21" width="6.2" height="6.2" fill="none" stroke="#2a2a2a" stroke-width="0.75"/>
<rect x="239.28" y="844.21" width="6.2" height="6.2" fill="none" stroke="#2a2a2a" stroke-width="0.75"/>
<rect x="248.90" y="844.21" width="6.2" height="6.2" fill="none" stroke="#2a2a2a" stroke-width="0.75"/>
<rect x="258.80" y="844.21" width="6.2" height="6.2" fill="none" stroke="#2a2a2a" stroke-width="0.75"/>
<rect x="229.00" y="849.30" width="6.2" height="6.2" fill="none" stroke="#2a2a2a" stroke-width="0.75"/>
<rect x="239.28" y="849.30" width="6.2" height="6.2" fill="none" stroke="#2a2a2a" stroke-width="0.75"/>
<rect x="248.90" y="849.30" width="6.2" height="6.2" fill="none" stroke="#2a2a2a" stroke-width="0.75"/>
<rect x="258.80" y="849.30" width="6.2" height="6.2" fill="none" stroke="#2a2a2a" stroke-width="0.75"/>
<rect x="234.09" y="849.30" width="6.2" height="6.2" fill="none" stroke="#2a2a2a" stroke-width="0.75"/>
<rect x="244.09" y="849.30" width="6.2" height="6.2" fill="none" stroke="#2a2a2a" stroke-width="0.75"/>
<rect x="254.00" y="849.30" width="6.2" height="6.2" fill="none" stroke="#2a2a2a" stroke-width="0.75"/>
<rect x="244.09" y="842.09" width="6.2" height="6.2" fill="none" stroke="#2a2a2a" stroke-width="0.75"/>
<rect x="244.09" y="857.00" width="6.2" height="6.2" fill="none" stroke="#2a2a2a" stroke-width="0.75"/>
<line x1="286.5" y1="819.13" x2="326.1" y2="819.13" stroke="#000" stroke-width="1.3"/>
<circle cx="302.1" cy="780.19" r="3.25" fill="#fff" stroke="#111" stroke-width="0.95"/><path d="M298.90 780.74A3.25 3.25 0 1 1 305.30 780.74Z" fill="#111"/>
<circle cx="311.96" cy="781.4" r="3.25" fill="#fff" stroke="#111" stroke-width="0.95"/><path d="M308.76 781.95A3.25 3.25 0 1 1 315.16 781.95Z" fill="#111"/>
<circle cx="297.08" cy="786.25" r="3.25" fill="#fff" stroke="#111" stroke-width="0.95"/><path d="M293.88 786.80A3.25 3.25 0 1 1 300.28 786.80Z" fill="#111"/>
<circle cx="316.81" cy="793.17" r="3.25" fill="#fff" stroke="#111" stroke-width="0.95"/><path d="M313.61 793.72A3.25 3.25 0 1 1 320.01 793.72Z" fill="#111"/>
<circle cx="306.94" cy="793.69" r="3.25" fill="#fff" stroke="#111" stroke-width="0.95"/><path d="M303.74 794.24A3.25 3.25 0 1 1 310.14 794.24Z" fill="#111"/>
<circle cx="321.83" cy="797.5" r="3.25" fill="#fff" stroke="#111" stroke-width="0.95"/><path d="M318.63 798.05A3.25 3.25 0 1 1 325.03 798.05Z" fill="#111"/>
<circle cx="292.23" cy="798.37" r="3.25" fill="#fff" stroke="#111" stroke-width="0.95"/><path d="M289.03 798.92A3.25 3.25 0 1 1 295.43 798.92Z" fill="#111"/>
<circle cx="311.96" cy="800.1" r="3.25" fill="#fff" stroke="#111" stroke-width="0.95"/><path d="M308.76 800.65A3.25 3.25 0 1 1 315.16 800.65Z" fill="#111"/>
<circle cx="302.1" cy="802.69" r="3.25" fill="#fff" stroke="#111" stroke-width="0.95"/><path d="M298.90 803.24A3.25 3.25 0 1 1 305.30 803.24Z" fill="#111"/>
<circle cx="316.81" cy="802.69" r="3.25" fill="#fff" stroke="#111" stroke-width="0.95"/><path d="M313.61 803.24A3.25 3.25 0 1 1 320.01 803.24Z" fill="#111"/>
<circle cx="297.08" cy="803.04" r="3.25" fill="#fff" stroke="#111" stroke-width="0.95"/><path d="M293.88 803.59A3.25 3.25 0 1 1 300.28 803.59Z" fill="#111"/>
<circle cx="306.94" cy="805.29" r="3.25" fill="#fff" stroke="#111" stroke-width="0.95"/><path d="M303.74 805.84A3.25 3.25 0 1 1 310.14 805.84Z" fill="#111"/>
<circle cx="321.83" cy="809.96" r="3.25" fill="#fff" stroke="#111" stroke-width="0.95"/><path d="M318.63 810.51A3.25 3.25 0 1 1 325.03 810.51Z" fill="#111"/>
<circle cx="292.23" cy="816.02" r="3.25" fill="#fff" stroke="#111" stroke-width="0.95"/><path d="M289.03 816.57A3.25 3.25 0 1 1 295.43 816.57Z" fill="#111"/>
<circle cx="302.1" cy="816.02" r="3.25" fill="#fff" stroke="#111" stroke-width="0.95"/><path d="M298.90 816.57A3.25 3.25 0 1 1 305.30 816.57Z" fill="#111"/>
<circle cx="311.96" cy="816.02" r="3.25" fill="#fff" stroke="#111" stroke-width="0.95"/><path d="M308.76 816.57A3.25 3.25 0 1 1 315.16 816.57Z" fill="#111"/>
<circle cx="309.54" cy="821.73" r="3.25" fill="#fff" stroke="#111" stroke-width="0.95"/><path d="M306.34 822.28A3.25 3.25 0 1 1 312.74 822.28Z" fill="#111"/>
<circle cx="304.52" cy="822.6" r="3.25" fill="#fff" stroke="#111" stroke-width="0.95"/><path d="M301.32 823.15A3.25 3.25 0 1 1 307.72 823.15Z" fill="#111"/>
<circle cx="321.83" cy="823.12" r="3.25" fill="#fff" stroke="#111" stroke-width="0.95"/><path d="M318.63 823.67A3.25 3.25 0 1 1 325.03 823.67Z" fill="#111"/>
<circle cx="292.23" cy="824.33" r="3.25" fill="#fff" stroke="#111" stroke-width="0.95"/><path d="M289.03 824.88A3.25 3.25 0 1 1 295.43 824.88Z" fill="#111"/>
<circle cx="311.96" cy="827.79" r="3.25" fill="#fff" stroke="#111" stroke-width="0.95"/><path d="M308.76 828.34A3.25 3.25 0 1 1 315.16 828.34Z" fill="#111"/>
<circle cx="302.1" cy="829.0" r="3.25" fill="#fff" stroke="#111" stroke-width="0.95"/><path d="M298.90 829.55A3.25 3.25 0 1 1 305.30 829.55Z" fill="#111"/>
<circle cx="316.81" cy="829.52" r="3.25" fill="#fff" stroke="#111" stroke-width="0.95"/><path d="M313.61 830.07A3.25 3.25 0 1 1 320.01 830.07Z" fill="#111"/>
<circle cx="297.08" cy="830.38" r="3.25" fill="#fff" stroke="#111" stroke-width="0.95"/><path d="M293.88 830.93A3.25 3.25 0 1 1 300.28 830.93Z" fill="#111"/>
<circle cx="306.94" cy="830.73" r="3.25" fill="#fff" stroke="#111" stroke-width="0.95"/><path d="M303.74 831.28A3.25 3.25 0 1 1 310.14 831.28Z" fill="#111"/>
<circle cx="292.23" cy="837.83" r="3.25" fill="#fff" stroke="#111" stroke-width="0.95"/><path d="M289.03 838.38A3.25 3.25 0 1 1 295.43 838.38Z" fill="#111"/>
<circle cx="321.83" cy="837.83" r="3.25" fill="#fff" stroke="#111" stroke-width="0.95"/><path d="M318.63 838.38A3.25 3.25 0 1 1 325.03 838.38Z" fill="#111"/>
<circle cx="302.1" cy="838.17" r="3.25" fill="#fff" stroke="#111" stroke-width="0.95"/><path d="M298.90 838.72A3.25 3.25 0 1 1 305.30 838.72Z" fill="#111"/>
<circle cx="311.96" cy="844.23" r="3.25" fill="#fff" stroke="#111" stroke-width="0.95"/><path d="M308.76 844.78A3.25 3.25 0 1 1 315.16 844.78Z" fill="#111"/>
<circle cx="297.08" cy="845.1" r="3.25" fill="#fff" stroke="#111" stroke-width="0.95"/><path d="M293.88 845.65A3.25 3.25 0 1 1 300.28 845.65Z" fill="#111"/>
<circle cx="316.81" cy="845.62" r="3.25" fill="#fff" stroke="#111" stroke-width="0.95"/><path d="M313.61 846.17A3.25 3.25 0 1 1 320.01 846.17Z" fill="#111"/>
<circle cx="306.94" cy="845.96" r="3.25" fill="#fff" stroke="#111" stroke-width="0.95"/><path d="M303.74 846.51A3.25 3.25 0 1 1 310.14 846.51Z" fill="#111"/>
<line x1="346.2" y1="837.98" x2="385.9" y2="837.98" stroke="#000" stroke-width="1.3"/>
<rect x="358.80" y="810.74" width="6.4" height="6.4" fill="#fff" stroke="#111" stroke-width="0.9"/><rect x="358.80" y="810.74" width="6.4" height="3.9000000000000004" fill="#111"/>
<rect x="368.42" y="817.47" width="6.4" height="6.4" fill="#fff" stroke="#111" stroke-width="0.9"/><rect x="368.42" y="817.47" width="6.4" height="3.9000000000000004" fill="#111"/>
<rect x="373.42" y="819.68" width="6.4" height="6.4" fill="#fff" stroke="#111" stroke-width="0.9"/><rect x="373.42" y="819.68" width="6.4" height="3.9000000000000004" fill="#111"/>
<rect x="356.30" y="821.32" width="6.4" height="6.4" fill="#fff" stroke="#111" stroke-width="0.9"/><rect x="356.30" y="821.32" width="6.4" height="3.9000000000000004" fill="#111"/>
<rect x="363.61" y="825.65" width="6.4" height="6.4" fill="#fff" stroke="#111" stroke-width="0.9"/><rect x="363.61" y="825.65" width="6.4" height="3.9000000000000004" fill="#111"/>
<rect x="353.70" y="827.09" width="6.4" height="6.4" fill="#fff" stroke="#111" stroke-width="0.9"/><rect x="353.70" y="827.09" width="6.4" height="3.9000000000000004" fill="#111"/>
<rect x="348.42" y="827.57" width="6.4" height="6.4" fill="#fff" stroke="#111" stroke-width="0.9"/><rect x="348.42" y="827.57" width="6.4" height="3.9000000000000004" fill="#111"/>
<rect x="378.22" y="827.57" width="6.4" height="6.4" fill="#fff" stroke="#111" stroke-width="0.9"/><rect x="378.22" y="827.57" width="6.4" height="3.9000000000000004" fill="#111"/>
<rect x="368.61" y="827.57" width="6.4" height="6.4" fill="#fff" stroke="#111" stroke-width="0.9"/><rect x="368.61" y="827.57" width="6.4" height="3.9000000000000004" fill="#111"/>
<rect x="358.51" y="828.72" width="6.4" height="6.4" fill="#fff" stroke="#111" stroke-width="0.9"/><rect x="358.51" y="828.72" width="6.4" height="3.9000000000000004" fill="#111"/>
<rect x="363.61" y="829.49" width="6.4" height="6.4" fill="#fff" stroke="#111" stroke-width="0.9"/><rect x="363.61" y="829.49" width="6.4" height="3.9000000000000004" fill="#111"/>
<rect x="351.30" y="830.65" width="6.4" height="6.4" fill="#fff" stroke="#111" stroke-width="0.9"/><rect x="351.30" y="830.65" width="6.4" height="3.9000000000000004" fill="#111"/>
<rect x="358.51" y="832.86" width="6.4" height="6.4" fill="#fff" stroke="#111" stroke-width="0.9"/><rect x="358.51" y="832.86" width="6.4" height="3.9000000000000004" fill="#111"/>
<rect x="363.61" y="833.15" width="6.4" height="6.4" fill="#fff" stroke="#111" stroke-width="0.9"/><rect x="363.61" y="833.15" width="6.4" height="3.9000000000000004" fill="#111"/>
<rect x="371.01" y="833.15" width="6.4" height="6.4" fill="#fff" stroke="#111" stroke-width="0.9"/><rect x="371.01" y="833.15" width="6.4" height="3.9000000000000004" fill="#111"/>
<rect x="353.70" y="833.34" width="6.4" height="6.4" fill="#fff" stroke="#111" stroke-width="0.9"/><rect x="353.70" y="833.34" width="6.4" height="3.9000000000000004" fill="#111"/>
<rect x="348.42" y="833.82" width="6.4" height="6.4" fill="#fff" stroke="#111" stroke-width="0.9"/><rect x="348.42" y="833.82" width="6.4" height="3.9000000000000004" fill="#111"/>
<rect x="373.61" y="834.49" width="6.4" height="6.4" fill="#fff" stroke="#111" stroke-width="0.9"/><rect x="373.61" y="834.49" width="6.4" height="3.9000000000000004" fill="#111"/>
<rect x="353.70" y="841.51" width="6.4" height="6.4" fill="#fff" stroke="#111" stroke-width="0.9"/><rect x="353.70" y="841.51" width="6.4" height="3.9000000000000004" fill="#111"/>
<rect x="363.61" y="841.51" width="6.4" height="6.4" fill="#fff" stroke="#111" stroke-width="0.9"/><rect x="363.61" y="841.51" width="6.4" height="3.9000000000000004" fill="#111"/>
<rect x="373.42" y="841.51" width="6.4" height="6.4" fill="#fff" stroke="#111" stroke-width="0.9"/><rect x="373.42" y="841.51" width="6.4" height="3.9000000000000004" fill="#111"/>
<rect x="363.61" y="847.76" width="6.4" height="6.4" fill="#fff" stroke="#111" stroke-width="0.9"/><rect x="363.61" y="847.76" width="6.4" height="3.9000000000000004" fill="#111"/>
<rect x="348.42" y="849.20" width="6.4" height="6.4" fill="#fff" stroke="#111" stroke-width="0.9"/><rect x="348.42" y="849.20" width="6.4" height="3.9000000000000004" fill="#111"/>
<rect x="353.70" y="849.20" width="6.4" height="6.4" fill="#fff" stroke="#111" stroke-width="0.9"/><rect x="353.70" y="849.20" width="6.4" height="3.9000000000000004" fill="#111"/>
<rect x="378.22" y="849.20" width="6.4" height="6.4" fill="#fff" stroke="#111" stroke-width="0.9"/><rect x="378.22" y="849.20" width="6.4" height="3.9000000000000004" fill="#111"/>
<rect x="358.51" y="856.42" width="6.4" height="6.4" fill="#fff" stroke="#111" stroke-width="0.9"/><rect x="358.51" y="856.42" width="6.4" height="3.9000000000000004" fill="#111"/>
<rect x="368.42" y="856.42" width="6.4" height="6.4" fill="#fff" stroke="#111" stroke-width="0.9"/><rect x="368.42" y="856.42" width="6.4" height="3.9000000000000004" fill="#111"/>
<line x1="406.0" y1="817.06" x2="445.6" y2="817.06" stroke="#000" stroke-width="1.3"/>
<circle cx="421.75" cy="852.54" r="3.25" fill="#fff" stroke="#111" stroke-width="0.95"/><path d="M418.55 851.99A3.25 3.25 0 1 0 424.95 851.99Z" fill="#111"/>
<circle cx="431.62" cy="845.1" r="3.25" fill="#fff" stroke="#111" stroke-width="0.95"/><path d="M428.42 844.55A3.25 3.25 0 1 0 434.82 844.55Z" fill="#111"/>
<circle cx="431.62" cy="837.65" r="3.25" fill="#fff" stroke="#111" stroke-width="0.95"/><path d="M428.42 837.10A3.25 3.25 0 1 0 434.82 837.10Z" fill="#111"/>
<circle cx="421.75" cy="836.79" r="3.25" fill="#fff" stroke="#111" stroke-width="0.95"/><path d="M418.55 836.24A3.25 3.25 0 1 0 424.95 836.24Z" fill="#111"/>
<circle cx="411.88" cy="830.04" r="3.25" fill="#fff" stroke="#111" stroke-width="0.95"/><path d="M408.68 829.49A3.25 3.25 0 1 0 415.08 829.49Z" fill="#111"/>
<circle cx="441.48" cy="830.04" r="3.25" fill="#fff" stroke="#111" stroke-width="0.95"/><path d="M438.28 829.49A3.25 3.25 0 1 0 444.68 829.49Z" fill="#111"/>
<circle cx="431.62" cy="823.98" r="3.25" fill="#fff" stroke="#111" stroke-width="0.95"/><path d="M428.42 823.43A3.25 3.25 0 1 0 434.82 823.43Z" fill="#111"/>
<circle cx="411.88" cy="823.46" r="3.25" fill="#fff" stroke="#111" stroke-width="0.95"/><path d="M408.68 822.91A3.25 3.25 0 1 0 415.08 822.91Z" fill="#111"/>
<circle cx="421.75" cy="823.46" r="3.25" fill="#fff" stroke="#111" stroke-width="0.95"/><path d="M418.55 822.91A3.25 3.25 0 1 0 424.95 822.91Z" fill="#111"/>
<circle cx="441.48" cy="823.46" r="3.25" fill="#fff" stroke="#111" stroke-width="0.95"/><path d="M438.28 822.91A3.25 3.25 0 1 0 444.68 822.91Z" fill="#111"/>
<circle cx="426.6" cy="822.6" r="3.25" fill="#fff" stroke="#111" stroke-width="0.95"/><path d="M423.40 822.05A3.25 3.25 0 1 0 429.80 822.05Z" fill="#111"/>
<circle cx="416.73" cy="821.73" r="3.25" fill="#fff" stroke="#111" stroke-width="0.95"/><path d="M413.53 821.18A3.25 3.25 0 1 0 419.93 821.18Z" fill="#111"/>
<circle cx="436.63" cy="821.73" r="3.25" fill="#fff" stroke="#111" stroke-width="0.95"/><path d="M433.43 821.18A3.25 3.25 0 1 0 439.83 821.18Z" fill="#111"/>
<circle cx="429.19" cy="818.27" r="3.25" fill="#fff" stroke="#111" stroke-width="0.95"/><path d="M425.99 817.72A3.25 3.25 0 1 0 432.39 817.72Z" fill="#111"/>
<circle cx="419.33" cy="816.54" r="3.25" fill="#fff" stroke="#111" stroke-width="0.95"/><path d="M416.13 815.99A3.25 3.25 0 1 0 422.53 815.99Z" fill="#111"/>
<circle cx="410.67" cy="815.67" r="3.25" fill="#fff" stroke="#111" stroke-width="0.95"/><path d="M407.47 815.12A3.25 3.25 0 1 0 413.87 815.12Z" fill="#111"/>
<circle cx="424.17" cy="815.67" r="3.25" fill="#fff" stroke="#111" stroke-width="0.95"/><path d="M420.97 815.12A3.25 3.25 0 1 0 427.37 815.12Z" fill="#111"/>
<circle cx="434.04" cy="815.33" r="3.25" fill="#fff" stroke="#111" stroke-width="0.95"/><path d="M430.84 814.78A3.25 3.25 0 1 0 437.24 814.78Z" fill="#111"/>
<circle cx="421.75" cy="809.62" r="3.25" fill="#fff" stroke="#111" stroke-width="0.95"/><path d="M418.55 809.07A3.25 3.25 0 1 0 424.95 809.07Z" fill="#111"/>
<circle cx="431.62" cy="809.62" r="3.25" fill="#fff" stroke="#111" stroke-width="0.95"/><path d="M428.42 809.07A3.25 3.25 0 1 0 434.82 809.07Z" fill="#111"/>
<circle cx="441.48" cy="808.75" r="3.25" fill="#fff" stroke="#111" stroke-width="0.95"/><path d="M438.28 808.20A3.25 3.25 0 1 0 444.68 808.20Z" fill="#111"/>
<circle cx="411.88" cy="808.23" r="3.25" fill="#fff" stroke="#111" stroke-width="0.95"/><path d="M408.68 807.68A3.25 3.25 0 1 0 415.08 807.68Z" fill="#111"/>
<circle cx="426.6" cy="806.15" r="3.25" fill="#fff" stroke="#111" stroke-width="0.95"/><path d="M423.40 805.60A3.25 3.25 0 1 0 429.80 805.60Z" fill="#111"/>
<circle cx="416.73" cy="800.96" r="3.25" fill="#fff" stroke="#111" stroke-width="0.95"/><path d="M413.53 800.41A3.25 3.25 0 1 0 419.93 800.41Z" fill="#111"/>
<circle cx="421.75" cy="797.5" r="3.25" fill="#fff" stroke="#111" stroke-width="0.95"/><path d="M418.55 796.95A3.25 3.25 0 1 0 424.95 796.95Z" fill="#111"/>
<circle cx="431.62" cy="795.42" r="3.25" fill="#fff" stroke="#111" stroke-width="0.95"/><path d="M428.42 794.87A3.25 3.25 0 1 0 434.82 794.87Z" fill="#111"/>
<circle cx="411.88" cy="791.96" r="3.25" fill="#fff" stroke="#111" stroke-width="0.95"/><path d="M408.68 791.41A3.25 3.25 0 1 0 415.08 791.41Z" fill="#111"/>
<circle cx="441.48" cy="791.96" r="3.25" fill="#fff" stroke="#111" stroke-width="0.95"/><path d="M438.28 791.41A3.25 3.25 0 1 0 444.68 791.41Z" fill="#111"/>
<circle cx="426.6" cy="787.63" r="3.25" fill="#fff" stroke="#111" stroke-width="0.95"/><path d="M423.40 787.08A3.25 3.25 0 1 0 429.80 787.08Z" fill="#111"/>
<line x1="465.7" y1="837.69" x2="505.3" y2="837.69" stroke="#000" stroke-width="1.3"/>
<rect x="483.32" y="849.20" width="6.4" height="6.4" fill="#fff" stroke="#111" stroke-width="0.9"/><rect x="483.32" y="851.70" width="6.4" height="3.9000000000000004" fill="#111"/>
<rect x="492.93" y="847.28" width="6.4" height="6.4" fill="#fff" stroke="#111" stroke-width="0.9"/><rect x="492.93" y="849.78" width="6.4" height="3.9000000000000004" fill="#111"/>
<rect x="473.22" y="842.76" width="6.4" height="6.4" fill="#fff" stroke="#111" stroke-width="0.9"/><rect x="473.22" y="845.26" width="6.4" height="3.9000000000000004" fill="#111"/>
<rect x="493.22" y="842.18" width="6.4" height="6.4" fill="#fff" stroke="#111" stroke-width="0.9"/><rect x="493.22" y="844.68" width="6.4" height="3.9000000000000004" fill="#111"/>
<rect x="468.42" y="841.22" width="6.4" height="6.4" fill="#fff" stroke="#111" stroke-width="0.9"/><rect x="468.42" y="843.72" width="6.4" height="3.9000000000000004" fill="#111"/>
<rect x="478.51" y="841.22" width="6.4" height="6.4" fill="#fff" stroke="#111" stroke-width="0.9"/><rect x="478.51" y="843.72" width="6.4" height="3.9000000000000004" fill="#111"/>
<rect x="488.42" y="841.22" width="6.4" height="6.4" fill="#fff" stroke="#111" stroke-width="0.9"/><rect x="488.42" y="843.72" width="6.4" height="3.9000000000000004" fill="#111"/>
<rect x="498.03" y="841.22" width="6.4" height="6.4" fill="#fff" stroke="#111" stroke-width="0.9"/><rect x="498.03" y="843.72" width="6.4" height="3.9000000000000004" fill="#111"/>
<rect x="483.32" y="837.18" width="6.4" height="6.4" fill="#fff" stroke="#111" stroke-width="0.9"/><rect x="483.32" y="839.68" width="6.4" height="3.9000000000000004" fill="#111"/>
<rect x="468.42" y="835.26" width="6.4" height="6.4" fill="#fff" stroke="#111" stroke-width="0.9"/><rect x="468.42" y="837.76" width="6.4" height="3.9000000000000004" fill="#111"/>
<rect x="473.22" y="835.26" width="6.4" height="6.4" fill="#fff" stroke="#111" stroke-width="0.9"/><rect x="473.22" y="837.76" width="6.4" height="3.9000000000000004" fill="#111"/>
<rect x="478.51" y="835.26" width="6.4" height="6.4" fill="#fff" stroke="#111" stroke-width="0.9"/><rect x="478.51" y="837.76" width="6.4" height="3.9000000000000004" fill="#111"/>
<rect x="483.32" y="835.26" width="6.4" height="6.4" fill="#fff" stroke="#111" stroke-width="0.9"/><rect x="483.32" y="837.76" width="6.4" height="3.9000000000000004" fill="#111"/>
<rect x="488.42" y="835.26" width="6.4" height="6.4" fill="#fff" stroke="#111" stroke-width="0.9"/><rect x="488.42" y="837.76" width="6.4" height="3.9000000000000004" fill="#111"/>
<rect x="493.22" y="835.26" width="6.4" height="6.4" fill="#fff" stroke="#111" stroke-width="0.9"/><rect x="493.22" y="837.76" width="6.4" height="3.9000000000000004" fill="#111"/>
<rect x="498.03" y="835.26" width="6.4" height="6.4" fill="#fff" stroke="#111" stroke-width="0.9"/><rect x="498.03" y="837.76" width="6.4" height="3.9000000000000004" fill="#111"/>
<rect x="485.72" y="830.45" width="6.4" height="6.4" fill="#fff" stroke="#111" stroke-width="0.9"/><rect x="485.72" y="832.95" width="6.4" height="3.9000000000000004" fill="#111"/>
<rect x="471.11" y="828.53" width="6.4" height="6.4" fill="#fff" stroke="#111" stroke-width="0.9"/><rect x="471.11" y="831.03" width="6.4" height="3.9000000000000004" fill="#111"/>
<rect x="495.53" y="828.34" width="6.4" height="6.4" fill="#fff" stroke="#111" stroke-width="0.9"/><rect x="495.53" y="830.84" width="6.4" height="3.9000000000000004" fill="#111"/>
<rect x="483.32" y="827.57" width="6.4" height="6.4" fill="#fff" stroke="#111" stroke-width="0.9"/><rect x="483.32" y="830.07" width="6.4" height="3.9000000000000004" fill="#111"/>
<rect x="478.51" y="826.13" width="6.4" height="6.4" fill="#fff" stroke="#111" stroke-width="0.9"/><rect x="478.51" y="828.63" width="6.4" height="3.9000000000000004" fill="#111"/>
<rect x="481.40" y="825.84" width="6.4" height="6.4" fill="#fff" stroke="#111" stroke-width="0.9"/><rect x="481.40" y="828.34" width="6.4" height="3.9000000000000004" fill="#111"/>
<rect x="468.42" y="820.84" width="6.4" height="6.4" fill="#fff" stroke="#111" stroke-width="0.9"/><rect x="468.42" y="823.34" width="6.4" height="3.9000000000000004" fill="#111"/>
<rect x="498.03" y="820.84" width="6.4" height="6.4" fill="#fff" stroke="#111" stroke-width="0.9"/><rect x="498.03" y="823.34" width="6.4" height="3.9000000000000004" fill="#111"/>
<rect x="478.51" y="819.88" width="6.4" height="6.4" fill="#fff" stroke="#111" stroke-width="0.9"/><rect x="478.51" y="822.38" width="6.4" height="3.9000000000000004" fill="#111"/>
<rect x="488.42" y="818.92" width="6.4" height="6.4" fill="#fff" stroke="#111" stroke-width="0.9"/><rect x="488.42" y="821.42" width="6.4" height="3.9000000000000004" fill="#111"/>
<rect x="468.42" y="814.11" width="6.4" height="6.4" fill="#fff" stroke="#111" stroke-width="0.9"/><rect x="468.42" y="816.61" width="6.4" height="3.9000000000000004" fill="#111"/>
<rect x="498.03" y="813.92" width="6.4" height="6.4" fill="#fff" stroke="#111" stroke-width="0.9"/><rect x="498.03" y="816.42" width="6.4" height="3.9000000000000004" fill="#111"/>
<text x="67.5" y="881.3" text-anchor="middle" font-size="9.2">HD</text>
<text x="67.5" y="891.2" text-anchor="middle" font-size="9.2">CD27<tspan font-size="6" dy="-3">+</tspan><tspan dy="3"> IgG</tspan><tspan font-size="6" dy="-3">+</tspan></text>
<text x="67.5" y="905.8" text-anchor="middle" font-size="9.2">(29)</text>
<text x="127.2" y="881.3" text-anchor="middle" font-size="9.2">HD</text>
<text x="127.2" y="891.2" text-anchor="middle" font-size="9.2">CD27<tspan font-size="6" dy="-3">−</tspan><tspan dy="3"> IgG</tspan><tspan font-size="6" dy="-3">+</tspan></text>
<text x="127.2" y="905.8" text-anchor="middle" font-size="9.2">(21)</text>
<text x="186.9" y="881.3" text-anchor="middle" font-size="9.2">CGD-22</text>
<text x="186.9" y="891.2" text-anchor="middle" font-size="9.2">CD27<tspan font-size="6" dy="-3">+</tspan><tspan dy="3"> IgG</tspan><tspan font-size="6" dy="-3">+</tspan></text>
<text x="186.9" y="905.8" text-anchor="middle" font-size="9.2">(29)</text>
<text x="246.6" y="881.3" text-anchor="middle" font-size="9.2">CGD-22</text>
<text x="246.6" y="891.2" text-anchor="middle" font-size="9.2">CD27<tspan font-size="6" dy="-3">−</tspan><tspan dy="3"> IgG</tspan><tspan font-size="6" dy="-3">+</tspan></text>
<text x="246.6" y="905.8" text-anchor="middle" font-size="9.2">(28)</text>
<text x="306.3" y="881.3" text-anchor="middle" font-size="9.2">CGD-14</text>
<text x="306.3" y="891.2" text-anchor="middle" font-size="9.2">CD27<tspan font-size="6" dy="-3">+</tspan><tspan dy="3"> IgG</tspan><tspan font-size="6" dy="-3">+</tspan></text>
<text x="306.3" y="905.8" text-anchor="middle" font-size="9.2">(32)</text>
<text x="366.1" y="881.3" text-anchor="middle" font-size="9.2">CGD-14</text>
<text x="366.1" y="891.2" text-anchor="middle" font-size="9.2">CD27<tspan font-size="6" dy="-3">−</tspan><tspan dy="3"> IgG</tspan><tspan font-size="6" dy="-3">+</tspan></text>
<text x="366.1" y="905.8" text-anchor="middle" font-size="9.2">(27)</text>
<text x="425.8" y="881.3" text-anchor="middle" font-size="9.2">CGD-28</text>
<text x="425.8" y="891.2" text-anchor="middle" font-size="9.2">CD27<tspan font-size="6" dy="-3">+</tspan><tspan dy="3"> IgG</tspan><tspan font-size="6" dy="-3">+</tspan></text>
<text x="425.8" y="905.8" text-anchor="middle" font-size="9.2">(29)</text>
<text x="485.5" y="881.3" text-anchor="middle" font-size="9.2">CGD-28</text>
<text x="485.5" y="891.2" text-anchor="middle" font-size="9.2">CD27<tspan font-size="6" dy="-3">−</tspan><tspan dy="3"> IgG</tspan><tspan font-size="6" dy="-3">+</tspan></text>
<text x="485.5" y="905.8" text-anchor="middle" font-size="9.2">(28)</text>
<path d="M66.5 658.1V654.5H424V658.1" fill="none" stroke="#3a3a3a" stroke-width="1.15"/>
<text x="247.5" y="650.4" text-anchor="middle" font-size="8.8" font-weight="bold"><tspan font-style="italic">P</tspan> = 0.0196</text>
<path d="M66.5 681.2V677.6H305V681.2" fill="none" stroke="#3a3a3a" stroke-width="1.15"/>
<text x="190.8" y="673" text-anchor="middle" font-size="8.8" font-weight="bold"><tspan font-style="italic">P</tspan> = 0.0325</text>
<path d="M66.5 706.3000000000001V702.7H185V706.3000000000001" fill="none" stroke="#3a3a3a" stroke-width="1.15"/>
<text x="127.0" y="698.4" text-anchor="middle" font-size="8.8" font-weight="bold"><tspan font-style="italic">P</tspan> = 0.0393</text>
<path d="M67.4 729.4V725.8H129.6V729.4" fill="none" stroke="#3a3a3a" stroke-width="1.15"/>
<text x="101.2" y="720.7" text-anchor="middle" font-size="8.8" font-weight="bold"><tspan font-style="italic">P</tspan> = 0.0003</text>
<path d="M186.5 729.4V725.8H245V729.4" fill="none" stroke="#3a3a3a" stroke-width="1.15"/>
<text x="218" y="720.7" text-anchor="middle" font-size="8.8" font-weight="bold"><tspan font-style="italic">P</tspan> = 0.0002</text>
<path d="M306.5 729.4V725.8H364V729.4" fill="none" stroke="#3a3a3a" stroke-width="1.15"/>
<text x="337.5" y="720.9" text-anchor="middle" font-size="8.8" font-weight="bold"><tspan font-style="italic">P</tspan> = 0.0019</text>
<path d="M426.5 729.4V725.8H485V729.4" fill="none" stroke="#3a3a3a" stroke-width="1.15"/>
<text x="458.8" y="720.9" text-anchor="middle" font-size="8.8" font-weight="bold"><tspan font-style="italic">P</tspan> = 0.0003</text>
<text x="276" y="926" text-anchor="middle" font-size="12">Donor/Subset</text>
</svg>
</body></html>
